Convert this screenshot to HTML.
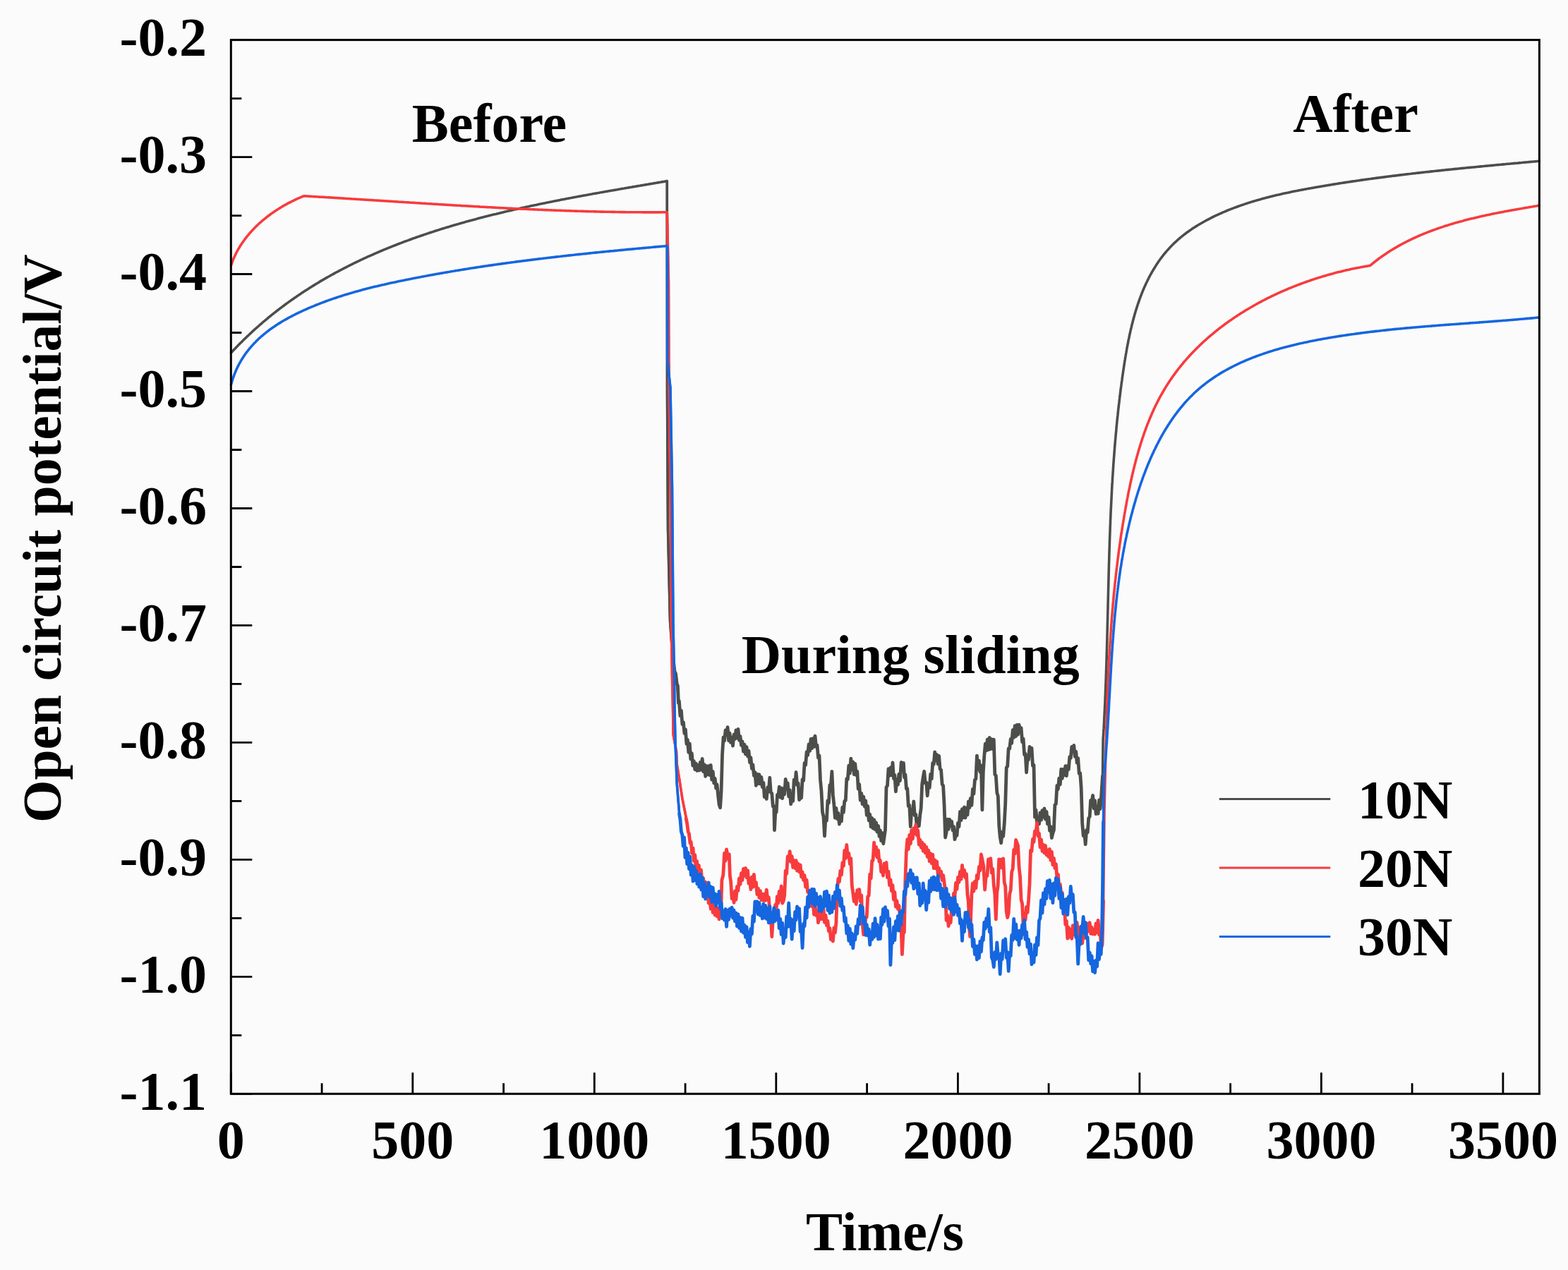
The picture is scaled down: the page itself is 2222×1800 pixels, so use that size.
<!DOCTYPE html>
<html><head><meta charset="utf-8"><title>Open circuit potential</title><style>
html,body{margin:0;padding:0;background:#fbfbfc;overflow:hidden}
svg{display:block}
text{font-family:"Liberation Serif","Times New Roman",serif;font-weight:bold;font-size:78px;fill:#000}
</style></head><body>
<svg width="2222" height="1800" viewBox="0 0 2222 1800">
<rect x="0" y="0" width="2222" height="1800" fill="#fbfbfc"/>
<path d="M327.5,500.0 L328.9,498.5 L330.3,497.0 L331.7,495.5 L333.2,494.0 L334.6,492.5 L336.0,491.0 L337.5,489.5 L338.9,488.1 L340.4,486.6 L341.8,485.2 L343.3,483.7 L344.7,482.3 L346.2,480.8 L347.7,479.4 L349.1,478.0 L350.6,476.6 L352.1,475.2 L353.6,473.8 L355.1,472.4 L356.5,471.0 L358.0,469.6 L359.5,468.2 L361.0,466.9 L362.6,465.5 L364.1,464.2 L365.6,462.8 L367.1,461.5 L368.6,460.2 L370.2,458.8 L371.7,457.5 L373.2,456.2 L374.8,454.9 L376.3,453.6 L377.9,452.3 L379.4,451.0 L381.0,449.7 L382.5,448.5 L384.1,447.2 L385.6,445.9 L387.2,444.7 L388.8,443.4 L390.4,442.2 L391.9,441.0 L393.5,439.7 L395.1,438.5 L396.7,437.3 L398.3,436.1 L399.9,434.9 L401.5,433.7 L403.1,432.5 L404.7,431.3 L406.3,430.1 L408.0,428.9 L409.6,427.8 L411.2,426.6 L412.8,425.5 L414.5,424.3 L416.1,423.2 L417.7,422.0 L419.4,420.9 L421.0,419.8 L422.7,418.6 L424.3,417.5 L426.0,416.4 L427.6,415.3 L429.3,414.2 L431.0,413.1 L432.6,412.0 L434.3,411.0 L436.0,409.9 L437.7,408.8 L439.3,407.8 L441.0,406.7 L442.7,405.6 L444.4,404.6 L446.1,403.6 L447.8,402.5 L449.5,401.5 L451.2,400.5 L452.9,399.4 L454.6,398.4 L456.3,397.4 L458.0,396.4 L459.8,395.4 L461.5,394.4 L463.2,393.4 L464.9,392.5 L466.7,391.5 L468.4,390.5 L470.1,389.5 L471.9,388.6 L473.6,387.6 L475.3,386.7 L477.1,385.7 L478.8,384.8 L480.6,383.9 L482.4,382.9 L484.1,382.0 L485.9,381.1 L487.6,380.2 L489.4,379.3 L491.2,378.4 L492.9,377.5 L494.7,376.6 L496.5,375.7 L498.3,374.8 L500.1,373.9 L501.8,373.0 L503.6,372.2 L505.4,371.3 L507.2,370.4 L509.0,369.6 L510.8,368.7 L512.6,367.9 L514.4,367.0 L516.2,366.2 L518.0,365.4 L519.8,364.5 L521.7,363.7 L523.5,362.9 L525.3,362.1 L527.1,361.3 L528.9,360.5 L530.8,359.7 L532.6,358.9 L534.4,358.1 L536.2,357.3 L538.1,356.5 L539.9,355.7 L541.7,355.0 L543.6,354.2 L545.4,353.4 L547.3,352.7 L549.1,351.9 L551.0,351.2 L552.8,350.4 L554.7,349.7 L556.5,348.9 L558.4,348.2 L560.3,347.5 L562.1,346.7 L564.0,346.0 L565.8,345.3 L567.7,344.6 L569.6,343.9 L571.5,343.1 L573.3,342.4 L575.2,341.7 L577.1,341.1 L579.0,340.4 L580.8,339.7 L582.7,339.0 L584.6,338.3 L586.5,337.6 L588.4,337.0 L590.3,336.3 L592.2,335.6 L594.1,335.0 L596.0,334.3 L597.9,333.7 L599.8,333.0 L601.7,332.4 L603.6,331.7 L605.5,331.1 L607.4,330.5 L609.3,329.8 L611.2,329.2 L613.1,328.6 L615.0,328.0 L616.9,327.3 L618.8,326.7 L620.8,326.1 L622.7,325.5 L624.6,324.9 L626.5,324.3 L628.4,323.7 L630.4,323.1 L632.3,322.5 L634.2,321.9 L636.1,321.4 L638.1,320.8 L640.0,320.2 L641.9,319.6 L643.9,319.1 L645.8,318.5 L647.7,317.9 L649.7,317.4 L651.6,316.8 L653.6,316.3 L655.5,315.7 L657.4,315.2 L659.4,314.6 L661.3,314.1 L663.3,313.5 L665.2,313.0 L667.2,312.5 L669.1,311.9 L671.1,311.4 L673.0,310.9 L675.0,310.4 L676.9,309.8 L678.9,309.3 L680.8,308.8 L682.8,308.3 L684.8,307.8 L686.7,307.3 L688.7,306.8 L690.6,306.3 L692.6,305.8 L694.6,305.3 L696.5,304.8 L698.5,304.3 L700.5,303.8 L702.4,303.4 L704.4,302.9 L706.4,302.4 L708.3,301.9 L710.3,301.4 L712.3,301.0 L714.2,300.5 L716.2,300.0 L718.2,299.6 L720.2,299.1 L722.1,298.7 L724.1,298.2 L726.1,297.7 L728.0,297.3 L730.0,296.8 L732.0,296.4 L734.0,295.9 L736.0,295.5 L737.9,295.1 L739.9,294.6 L741.9,294.2 L743.9,293.8 L745.9,293.3 L747.8,292.9 L749.8,292.5 L751.8,292.0 L753.8,291.6 L755.8,291.2 L757.7,290.8 L759.7,290.4 L761.7,289.9 L763.7,289.5 L765.7,289.1 L767.7,288.7 L769.6,288.3 L771.6,287.9 L773.6,287.5 L775.6,287.1 L777.6,286.7 L779.6,286.3 L781.5,285.9 L783.5,285.5 L785.5,285.1 L787.5,284.7 L789.5,284.3 L791.5,283.9 L793.5,283.5 L795.4,283.1 L797.4,282.7 L799.4,282.4 L801.4,282.0 L803.4,281.6 L805.4,281.2 L807.4,280.8 L809.3,280.5 L811.3,280.1 L813.3,279.7 L815.3,279.3 L817.3,279.0 L819.3,278.6 L821.3,278.2 L823.2,277.9 L825.2,277.5 L827.2,277.1 L829.2,276.8 L831.2,276.4 L833.2,276.0 L835.1,275.7 L837.1,275.3 L839.1,275.0 L841.1,274.6 L843.1,274.2 L845.1,273.9 L847.0,273.5 L849.0,273.2 L851.0,272.8 L853.0,272.5 L855.0,272.1 L856.9,271.8 L858.9,271.4 L860.9,271.1 L862.9,270.7 L864.8,270.4 L866.8,270.0 L868.8,269.7 L870.8,269.4 L872.7,269.0 L874.7,268.7 L876.7,268.3 L878.7,268.0 L880.6,267.6 L882.6,267.3 L884.6,267.0 L886.5,266.6 L888.5,266.3 L890.5,265.9 L892.4,265.6 L894.4,265.3 L896.4,264.9 L898.3,264.6 L900.3,264.3 L902.3,263.9 L904.2,263.6 L906.2,263.3 L908.2,262.9 L910.1,262.6 L912.1,262.3 L914.0,261.9 L916.0,261.6 L917.9,261.3 L919.9,260.9 L921.8,260.6 L923.8,260.3 L925.7,259.9 L927.7,259.6 L929.6,259.3 L931.6,258.9 L933.5,258.6 L935.5,258.3 L937.4,257.9 L939.4,257.6 L941.3,257.3 L943.3,256.9 L945.2,256.6 L945.3,257.0 L945.5,560.0 L946.5,750.0 L949.5,880.0 L953.0,930.0" fill="none" stroke="#4c4e4a" stroke-width="3.6" stroke-linejoin="round" stroke-linecap="round"/>
<path d="M945.3,257.0 L945.5,560.0 L946.5,750.0 L949.5,880.0 L953.0,930.0 L957.5,958.0 L959.2,964.5 L961.5,992.0" fill="none" stroke="#4c4e4a" stroke-width="3.3" stroke-linejoin="round" stroke-linecap="round"/>
<path d="M953.0,930.9 L954.5,938.1 L956.0,951.9 L957.5,954.6 L959.2,969.4 L960.4,972.0 L961.5,996.6 L962.4,993.6 L963.9,1014.5 L965.4,1007.1 L966.9,1026.5 L968.4,1023.6 L969.9,1039.4 L971.4,1033.8 L972.9,1054.4 L974.3,1048.4 L975.8,1066.4 L977.3,1053.9 L978.8,1075.8 L980.3,1067.7 L981.8,1085.1 L983.3,1078.7 L984.8,1090.7 L986.3,1082.1 L987.8,1092.4 L989.3,1084.7 L990.8,1091.9 L992.2,1080.5 L993.7,1091.1 L995.2,1075.5 L996.7,1093.5 L998.2,1083.5 L999.7,1100.3 L1001.2,1085.7 L1002.7,1097.9 L1004.2,1085.6 L1005.7,1098.6 L1007.2,1084.3 L1008.7,1105.2 L1010.2,1093.4 L1011.7,1109.8 L1013.2,1103.4 L1014.7,1117.2 L1016.1,1111.8 L1017.6,1127.2 L1019.1,1140.5 L1020.6,1144.8 L1022.1,1121.3 L1023.6,1068.5 L1025.1,1044.8 L1026.6,1049.9 L1028.1,1034.9 L1029.6,1041.4 L1031.1,1030.6 L1032.6,1049.6 L1034.0,1038.8 L1035.5,1052.4 L1037.0,1045.3 L1038.5,1057.1 L1040.0,1041.2 L1041.5,1047.4 L1043.0,1034.9 L1044.5,1046.1 L1046.0,1033.4 L1047.5,1049.0 L1049.0,1043.6 L1050.5,1056.4 L1052.0,1050.9 L1053.5,1065.2 L1055.0,1055.2 L1056.5,1068.9 L1058.0,1058.7 L1059.5,1071.8 L1061.0,1064.1 L1062.5,1080.5 L1063.9,1073.6 L1065.4,1089.3 L1066.9,1083.7 L1068.4,1099.3 L1069.9,1094.5 L1071.4,1113.3 L1072.9,1097.1 L1074.4,1110.7 L1075.9,1097.6 L1077.4,1111.2 L1078.9,1101.3 L1080.4,1115.7 L1081.9,1109.4 L1083.3,1129.6 L1084.8,1125.5 L1086.3,1132.4 L1087.8,1116.0 L1089.3,1122.0 L1090.8,1102.1 L1092.3,1123.2 L1093.8,1124.4 L1095.3,1142.9 L1096.8,1142.6 L1097.5,1176.6 L1098.8,1151.8 L1100.2,1151.2 L1101.5,1126.5 L1102.8,1128.3 L1104.3,1115.2 L1105.8,1130.0 L1107.2,1116.8 L1108.7,1131.6 L1110.2,1117.7 L1111.7,1125.8 L1113.2,1104.4 L1114.7,1112.4 L1116.2,1109.8 L1117.7,1128.9 L1119.2,1119.5 L1120.7,1139.7 L1122.2,1133.2 L1123.7,1135.3 L1125.2,1105.1 L1126.7,1111.2 L1128.1,1094.4 L1129.6,1112.5 L1131.1,1110.0 L1132.6,1133.7 L1134.1,1131.5 L1135.6,1130.8 L1137.1,1104.7 L1138.6,1106.5 L1140.1,1081.4 L1141.6,1084.4 L1143.1,1065.7 L1144.6,1070.4 L1146.1,1054.9 L1147.6,1064.3 L1149.1,1047.5 L1150.5,1060.7 L1152.0,1046.7 L1153.5,1058.3 L1155.0,1043.1 L1156.5,1058.2 L1158.0,1056.2 L1159.5,1074.0 L1161.0,1070.8 L1162.5,1105.4 L1164.0,1121.4 L1165.5,1151.1 L1167.0,1157.5 L1168.5,1184.8 L1170.0,1158.4 L1171.4,1163.2 L1172.9,1134.8 L1174.4,1138.0 L1175.9,1112.7 L1177.4,1112.7 L1178.9,1093.3 L1180.4,1126.9 L1181.9,1140.8 L1183.4,1159.2 L1184.9,1145.5 L1186.4,1160.5 L1187.9,1152.3 L1189.4,1168.0 L1190.9,1156.8 L1192.4,1164.0 L1193.8,1144.1 L1195.3,1151.5 L1196.8,1135.4 L1198.3,1134.5 L1199.8,1103.6 L1201.3,1104.7 L1202.8,1085.2 L1204.3,1096.0 L1205.8,1075.1 L1207.3,1090.9 L1208.8,1079.9 L1210.3,1097.5 L1211.8,1082.5 L1213.3,1098.5 L1214.8,1093.3 L1216.2,1118.1 L1217.7,1111.7 L1219.2,1134.0 L1220.7,1124.3 L1222.2,1139.7 L1223.7,1129.1 L1225.2,1143.0 L1226.7,1134.8 L1228.2,1155.3 L1229.7,1142.5 L1231.2,1162.9 L1232.7,1154.1 L1234.2,1171.9 L1235.7,1159.4 L1237.2,1174.0 L1238.7,1161.8 L1240.2,1175.8 L1241.6,1166.0 L1243.1,1179.2 L1244.6,1170.5 L1246.1,1185.4 L1247.4,1176.9 L1248.7,1191.6 L1250.0,1180.4 L1251.8,1195.8 L1253.6,1182.5 L1254.5,1176.7 L1256.0,1115.8 L1257.5,1113.5 L1259.0,1089.7 L1260.5,1099.5 L1262.0,1088.0 L1263.5,1098.8 L1265.0,1080.9 L1266.5,1103.6 L1267.9,1098.6 L1269.4,1121.9 L1270.9,1104.8 L1272.4,1112.2 L1273.9,1097.1 L1275.4,1106.6 L1277.2,1080.3 L1279.1,1087.5 L1280.4,1081.4 L1281.6,1101.8 L1282.9,1097.7 L1284.4,1117.8 L1285.8,1117.7 L1287.3,1142.5 L1288.8,1141.2 L1290.3,1171.7 L1291.8,1147.6 L1293.3,1153.5 L1294.8,1135.9 L1296.3,1155.9 L1297.8,1154.2 L1299.3,1173.5 L1300.8,1160.4 L1302.3,1170.7 L1303.8,1155.0 L1305.2,1145.7 L1306.7,1111.4 L1308.2,1101.5 L1309.7,1093.3 L1311.2,1110.1 L1312.7,1109.0 L1314.2,1127.8 L1315.7,1110.5 L1317.2,1116.5 L1318.7,1097.1 L1320.2,1103.9 L1321.7,1081.3 L1323.2,1083.4 L1324.7,1065.9 L1326.2,1077.8 L1327.7,1069.5 L1329.1,1082.8 L1330.6,1071.3 L1332.1,1090.0 L1333.6,1091.2 L1335.1,1111.5 L1336.6,1113.4 L1338.1,1141.4 L1339.6,1187.0 L1341.1,1179.7 L1342.6,1161.1 L1344.1,1175.3 L1345.6,1161.5 L1347.1,1170.5 L1348.6,1164.2 L1350.1,1176.9 L1351.5,1171.6 L1353.0,1189.7 L1354.5,1182.1 L1356.0,1184.3 L1357.5,1166.3 L1359.0,1171.6 L1360.5,1150.4 L1362.0,1162.5 L1363.5,1146.6 L1365.0,1158.8 L1366.5,1143.9 L1368.0,1159.0 L1369.5,1145.2 L1371.0,1155.0 L1372.5,1135.8 L1373.9,1144.7 L1375.4,1131.3 L1376.9,1141.4 L1378.4,1118.4 L1379.9,1125.1 L1381.4,1105.3 L1382.9,1103.9 L1384.4,1071.2 L1385.9,1090.4 L1387.4,1078.2 L1388.9,1094.1 L1390.4,1084.9 L1391.9,1147.9 L1393.3,1094.3 L1394.8,1071.3 L1396.3,1054.1 L1397.8,1063.8 L1399.3,1047.9 L1400.8,1062.7 L1402.3,1045.5 L1403.8,1061.5 L1405.3,1047.7 L1406.8,1061.5 L1408.3,1048.2 L1409.8,1097.8 L1411.3,1099.1 L1412.8,1123.5 L1414.3,1128.4 L1415.8,1170.8 L1417.2,1186.4 L1418.7,1194.7 L1420.2,1179.1 L1421.7,1185.3 L1423.2,1167.8 L1424.7,1140.1 L1426.2,1088.1 L1427.7,1086.0 L1429.2,1060.8 L1430.7,1061.1 L1432.2,1047.4 L1433.7,1053.4 L1435.2,1034.6 L1436.7,1045.4 L1438.2,1028.7 L1439.7,1043.5 L1441.2,1027.3 L1442.6,1041.1 L1444.1,1027.1 L1445.6,1034.7 L1447.1,1031.7 L1448.6,1051.5 L1450.1,1047.0 L1451.6,1069.7 L1453.1,1068.2 L1454.6,1094.8 L1456.1,1072.5 L1457.5,1076.9 L1459.0,1058.5 L1460.5,1064.9 L1462.0,1060.2 L1463.5,1085.4 L1465.0,1084.4 L1466.5,1158.1 L1468.0,1147.9 L1469.5,1166.0 L1471.0,1159.6 L1472.5,1167.8 L1474.0,1152.0 L1475.5,1162.2 L1477.0,1148.6 L1478.5,1158.1 L1480.0,1145.9 L1481.5,1161.1 L1483.0,1150.4 L1484.5,1167.9 L1486.0,1158.0 L1487.5,1177.2 L1489.0,1171.5 L1490.4,1187.6 L1491.9,1180.9 L1493.4,1176.8 L1494.9,1140.7 L1496.4,1139.5 L1497.9,1113.3 L1499.4,1118.6 L1500.8,1103.1 L1502.3,1111.8 L1503.8,1090.1 L1505.3,1103.3 L1506.8,1090.3 L1508.3,1098.7 L1509.8,1085.7 L1511.3,1099.7 L1512.8,1085.3 L1514.3,1090.8 L1515.8,1072.7 L1517.3,1074.5 L1518.8,1058.5 L1520.3,1064.0 L1521.8,1056.4 L1523.3,1072.4 L1524.7,1065.0 L1526.2,1081.2 L1527.7,1074.6 L1529.2,1096.3 L1530.7,1095.7 L1532.2,1117.0 L1533.7,1167.0 L1535.2,1184.6 L1536.7,1178.7 L1538.2,1196.7 L1539.7,1176.3 L1541.2,1179.7 L1542.7,1159.8 L1544.2,1157.5 L1545.6,1134.4 L1547.1,1136.9 L1548.6,1127.3 L1550.1,1145.9 L1551.6,1134.6 L1553.1,1153.6 L1554.6,1144.4 L1556.1,1153.2 L1557.6,1133.9 L1559.1,1146.6 L1560.6,1129.1 L1562.5,1100.0" fill="none" stroke="#4c4e4a" stroke-width="4.8" stroke-linejoin="round" stroke-linecap="round"/>
<path d="M1562.5,1100.0 L1563.1,1048.9 L1563.2,1046.9 L1563.3,1044.8 L1563.5,1042.8 L1563.6,1040.8 L1563.7,1038.8 L1563.8,1036.7 L1563.9,1034.7 L1564.1,1032.7 L1564.2,1030.7 L1564.3,1028.6 L1564.4,1026.6 L1564.5,1024.6 L1564.6,1022.6 L1564.7,1020.6 L1564.8,1018.5 L1564.9,1016.5 L1565.0,1014.5 L1565.1,1012.5 L1565.2,1010.5 L1565.3,1008.4 L1565.4,1006.4 L1565.5,1004.4 L1565.6,1002.4 L1565.7,1000.4 L1565.8,998.4 L1565.9,996.3 L1566.0,994.3 L1566.0,992.3 L1566.1,990.3 L1566.2,988.3 L1566.3,986.3 L1566.4,984.3 L1566.5,982.2 L1566.5,980.2 L1566.6,978.2 L1566.7,976.2 L1566.8,974.2 L1566.8,972.2 L1566.9,970.2 L1567.0,968.2 L1567.1,966.2 L1567.1,964.2 L1567.2,962.1 L1567.3,960.1 L1567.3,958.1 L1567.4,956.1 L1567.5,954.1 L1567.5,952.1 L1567.6,950.1 L1567.7,948.1 L1567.7,946.1 L1567.8,944.1 L1567.9,942.1 L1567.9,940.1 L1568.0,938.1 L1568.0,936.1 L1568.1,934.1 L1568.2,932.1 L1568.2,930.1 L1568.3,928.1 L1568.3,926.1 L1568.4,924.1 L1568.5,922.1 L1568.5,920.1 L1568.6,918.1 L1568.6,916.1 L1568.7,914.1 L1568.7,912.1 L1568.8,910.1 L1568.8,908.1 L1568.9,906.1 L1568.9,904.1 L1569.0,902.1 L1569.0,900.1 L1569.1,898.1 L1569.1,896.1 L1569.2,894.1 L1569.2,892.1 L1569.3,890.1 L1569.3,888.1 L1569.4,886.1 L1569.4,884.1 L1569.5,882.1 L1569.5,880.1 L1569.6,878.1 L1569.6,876.1 L1569.7,874.1 L1569.7,872.1 L1569.8,870.1 L1569.8,868.1 L1569.9,866.1 L1569.9,864.1 L1570.0,862.2 L1570.0,860.2 L1570.0,858.2 L1570.1,856.2 L1570.1,854.2 L1570.2,852.2 L1570.2,850.2 L1570.3,848.2 L1570.3,846.2 L1570.4,844.2 L1570.4,842.2 L1570.5,840.2 L1570.5,838.2 L1570.6,836.3 L1570.6,834.3 L1570.7,832.3 L1570.7,830.3 L1570.8,828.3 L1570.8,826.3 L1570.9,824.3 L1570.9,822.3 L1571.0,820.3 L1571.0,818.3 L1571.1,816.3 L1571.1,814.4 L1571.2,812.4 L1571.2,810.4 L1571.3,808.4 L1571.3,806.4 L1571.4,804.4 L1571.4,802.4 L1571.5,800.4 L1571.5,798.4 L1571.6,796.4 L1571.7,794.4 L1571.7,792.5 L1571.8,790.5 L1571.8,788.5 L1571.9,786.5 L1571.9,784.5 L1572.0,782.5 L1572.1,780.5 L1572.1,778.5 L1572.2,776.5 L1572.3,774.5 L1572.3,772.6 L1572.4,770.6 L1572.4,768.6 L1572.5,766.6 L1572.6,764.6 L1572.6,762.6 L1572.7,760.6 L1572.8,758.6 L1572.9,756.6 L1572.9,754.6 L1573.0,752.7 L1573.1,750.7 L1573.1,748.7 L1573.2,746.7 L1573.3,744.7 L1573.4,742.7 L1573.5,740.7 L1573.5,738.7 L1573.6,736.7 L1573.7,734.7 L1573.8,732.7 L1573.9,730.8 L1573.9,728.8 L1574.0,726.8 L1574.1,724.8 L1574.2,722.8 L1574.3,720.8 L1574.4,718.8 L1574.5,716.8 L1574.6,714.8 L1574.7,712.8 L1574.8,710.8 L1574.9,708.8 L1575.0,706.8 L1575.1,704.9 L1575.2,702.9 L1575.3,700.9 L1575.4,698.9 L1575.5,696.9 L1575.6,694.9 L1575.7,692.9 L1575.8,690.9 L1575.9,688.9 L1576.0,686.9 L1576.1,684.9 L1576.3,682.9 L1576.4,680.9 L1576.5,678.9 L1576.6,676.9 L1576.7,674.9 L1576.9,672.9 L1577.0,670.9 L1577.1,668.9 L1577.3,666.9 L1577.4,664.9 L1577.5,663.0 L1577.7,661.0 L1577.8,659.0 L1577.9,657.0 L1578.1,655.0 L1578.2,653.0 L1578.4,651.0 L1578.5,649.0 L1578.7,647.0 L1578.8,645.0 L1579.0,643.0 L1579.1,641.0 L1579.3,639.0 L1579.4,637.0 L1579.6,635.0 L1579.7,633.0 L1579.9,631.0 L1580.1,629.0 L1580.2,626.9 L1580.4,624.9 L1580.6,622.9 L1580.8,620.9 L1580.9,618.9 L1581.1,616.9 L1581.3,614.9 L1581.5,612.9 L1581.7,610.9 L1581.9,608.9 L1582.0,606.9 L1582.2,604.9 L1582.4,602.9 L1582.6,600.9 L1582.8,598.9 L1583.0,596.9 L1583.2,594.9 L1583.4,592.8 L1583.6,590.8 L1583.9,588.8 L1584.1,586.8 L1584.3,584.8 L1584.5,582.8 L1584.7,580.8 L1584.9,578.8 L1585.2,576.8 L1585.4,574.7 L1585.6,572.7 L1585.9,570.7 L1586.1,568.7 L1586.3,566.7 L1586.6,564.7 L1586.8,562.7 L1587.1,560.6 L1587.3,558.6 L1587.6,556.6 L1587.8,554.6 L1588.1,552.6 L1588.3,550.5 L1588.6,548.5 L1588.9,546.5 L1589.1,544.5 L1589.4,542.5 L1589.7,540.4 L1590.0,538.4 L1590.2,536.4 L1590.5,534.4 L1590.8,532.4 L1591.1,530.3 L1591.4,528.3 L1591.7,526.3 L1592.0,524.3 L1592.3,522.2 L1592.6,520.2 L1592.9,518.2 L1593.2,516.2 L1593.5,514.1 L1593.8,512.1 L1594.2,510.1 L1594.5,508.1 L1594.8,506.0 L1595.2,504.0 L1595.5,502.0 L1595.9,500.0 L1596.2,498.0 L1596.6,496.0 L1596.9,493.9 L1597.3,491.9 L1597.7,489.9 L1598.1,487.9 L1598.5,485.9 L1598.8,483.9 L1599.2,481.9 L1599.7,479.9 L1600.1,477.9 L1600.5,475.9 L1600.9,473.9 L1601.4,472.0 L1601.8,470.0 L1602.2,468.0 L1602.7,466.0 L1603.2,464.1 L1603.6,462.1 L1604.1,460.1 L1604.6,458.2 L1605.1,456.2 L1605.6,454.3 L1606.1,452.3 L1606.7,450.4 L1607.2,448.5 L1607.7,446.6 L1608.3,444.6 L1608.8,442.7 L1609.4,440.8 L1610.0,438.9 L1610.6,437.0 L1611.2,435.1 L1611.8,433.2 L1612.4,431.3 L1613.1,429.5 L1613.7,427.6 L1614.4,425.7 L1615.0,423.9 L1615.7,422.0 L1616.4,420.2 L1617.1,418.4 L1617.8,416.5 L1618.5,414.7 L1619.2,412.9 L1620.0,411.1 L1620.7,409.3 L1621.5,407.5 L1622.3,405.8 L1623.1,404.0 L1623.9,402.2 L1624.7,400.5 L1625.6,398.7 L1626.4,397.0 L1627.3,395.3 L1628.1,393.6 L1629.0,391.9 L1629.9,390.2 L1630.9,388.5 L1631.8,386.8 L1632.7,385.1 L1633.7,383.5 L1634.7,381.8 L1635.7,380.2 L1636.7,378.6 L1637.7,377.0 L1638.7,375.3 L1639.8,373.8 L1640.8,372.2 L1641.9,370.6 L1643.0,369.0 L1644.1,367.5 L1645.2,366.0 L1646.4,364.4 L1647.6,362.9 L1648.7,361.4 L1649.9,359.9 L1651.1,358.5 L1652.4,357.0 L1653.6,355.5 L1654.9,354.1 L1656.2,352.7 L1657.5,351.3 L1658.8,349.9 L1660.1,348.5 L1661.5,347.1 L1662.8,345.7 L1664.2,344.4 L1665.6,343.1 L1667.1,341.8 L1668.5,340.4 L1670.0,339.2 L1671.4,337.9 L1672.9,336.6 L1674.5,335.4 L1676.0,334.1 L1677.5,332.9 L1679.1,331.7 L1680.7,330.5 L1682.3,329.3 L1683.9,328.2 L1685.5,327.0 L1687.2,325.9 L1688.8,324.7 L1690.5,323.6 L1692.2,322.5 L1693.9,321.4 L1695.6,320.4 L1697.3,319.3 L1699.1,318.3 L1700.8,317.2 L1702.6,316.2 L1704.3,315.2 L1706.1,314.2 L1707.9,313.2 L1709.7,312.2 L1711.5,311.3 L1713.4,310.3 L1715.2,309.4 L1717.0,308.4 L1718.9,307.5 L1720.7,306.6 L1722.6,305.7 L1724.5,304.8 L1726.4,304.0 L1728.2,303.1 L1730.1,302.3 L1732.0,301.4 L1733.9,300.6 L1735.9,299.8 L1737.8,299.0 L1739.7,298.2 L1741.6,297.4 L1743.5,296.7 L1745.5,295.9 L1747.4,295.2 L1749.4,294.4 L1751.3,293.7 L1753.3,293.0 L1755.2,292.3 L1757.2,291.6 L1759.1,290.9 L1761.1,290.2 L1763.0,289.6 L1765.0,288.9 L1766.9,288.3 L1768.9,287.6 L1770.9,287.0 L1772.8,286.4 L1774.8,285.8 L1776.7,285.2 L1778.7,284.6 L1780.6,284.0 L1782.6,283.5 L1784.6,282.9 L1786.5,282.4 L1788.5,281.8 L1790.4,281.3 L1792.4,280.8 L1794.4,280.2 L1796.3,279.7 L1798.3,279.2 L1800.3,278.7 L1802.2,278.2 L1804.2,277.7 L1806.1,277.3 L1808.1,276.8 L1810.1,276.3 L1812.0,275.9 L1814.0,275.4 L1816.0,275.0 L1817.9,274.6 L1819.9,274.1 L1821.9,273.7 L1823.8,273.3 L1825.8,272.9 L1827.8,272.4 L1829.7,272.0 L1831.7,271.6 L1833.7,271.2 L1835.6,270.8 L1837.6,270.5 L1839.6,270.1 L1841.5,269.7 L1843.5,269.3 L1845.5,268.9 L1847.4,268.6 L1849.4,268.2 L1851.4,267.8 L1853.3,267.5 L1855.3,267.1 L1857.3,266.8 L1859.2,266.4 L1861.2,266.1 L1863.2,265.7 L1865.1,265.4 L1867.1,265.0 L1869.1,264.7 L1871.1,264.4 L1873.0,264.0 L1875.0,263.7 L1877.0,263.4 L1878.9,263.0 L1880.9,262.7 L1882.9,262.4 L1884.8,262.1 L1886.8,261.7 L1888.8,261.4 L1890.8,261.1 L1892.7,260.8 L1894.7,260.5 L1896.7,260.1 L1898.6,259.8 L1900.6,259.5 L1902.6,259.2 L1904.6,258.9 L1906.5,258.6 L1908.5,258.3 L1910.5,258.0 L1912.4,257.7 L1914.4,257.4 L1916.4,257.1 L1918.4,256.8 L1920.3,256.6 L1922.3,256.3 L1924.3,256.0 L1926.3,255.7 L1928.2,255.4 L1930.2,255.1 L1932.2,254.8 L1934.1,254.6 L1936.1,254.3 L1938.1,254.0 L1940.1,253.7 L1942.0,253.5 L1944.0,253.2 L1946.0,252.9 L1948.0,252.7 L1949.9,252.4 L1951.9,252.1 L1953.9,251.9 L1955.9,251.6 L1957.9,251.4 L1959.8,251.1 L1961.8,250.9 L1963.8,250.6 L1965.8,250.3 L1967.7,250.1 L1969.7,249.8 L1971.7,249.6 L1973.7,249.3 L1975.7,249.1 L1977.6,248.9 L1979.6,248.6 L1981.6,248.4 L1983.6,248.1 L1985.5,247.9 L1987.5,247.7 L1989.5,247.4 L1991.5,247.2 L1993.5,246.9 L1995.4,246.7 L1997.4,246.5 L1999.4,246.3 L2001.4,246.0 L2003.4,245.8 L2005.4,245.6 L2007.3,245.3 L2009.3,245.1 L2011.3,244.9 L2013.3,244.7 L2015.3,244.4 L2017.3,244.2 L2019.2,244.0 L2021.2,243.8 L2023.2,243.6 L2025.2,243.4 L2027.2,243.1 L2029.2,242.9 L2031.1,242.7 L2033.1,242.5 L2035.1,242.3 L2037.1,242.1 L2039.1,241.9 L2041.1,241.7 L2043.1,241.4 L2045.1,241.2 L2047.0,241.0 L2049.0,240.8 L2051.0,240.6 L2053.0,240.4 L2055.0,240.2 L2057.0,240.0 L2059.0,239.8 L2061.0,239.6 L2063.0,239.4 L2064.9,239.2 L2066.9,239.0 L2068.9,238.8 L2070.9,238.6 L2072.9,238.4 L2074.9,238.2 L2076.9,238.0 L2078.9,237.8 L2080.9,237.6 L2082.9,237.4 L2084.9,237.2 L2086.9,237.0 L2088.9,236.9 L2090.8,236.7 L2092.8,236.5 L2094.8,236.3 L2096.8,236.1 L2098.8,235.9 L2100.8,235.7 L2102.8,235.5 L2104.8,235.3 L2106.8,235.1 L2108.8,235.0 L2110.8,234.8 L2112.8,234.6 L2114.8,234.4 L2116.8,234.2 L2118.8,234.0 L2120.8,233.8 L2122.8,233.6 L2124.8,233.5 L2126.8,233.3 L2128.8,233.1 L2130.8,232.9 L2132.8,232.7 L2134.8,232.5 L2136.8,232.3 L2138.8,232.2 L2140.8,232.0 L2142.8,231.8 L2144.8,231.6 L2146.9,231.4 L2148.9,231.2 L2150.9,231.1 L2152.9,230.9 L2154.9,230.7 L2156.9,230.5 L2158.9,230.3 L2160.9,230.1 L2162.9,230.0 L2164.9,229.8 L2166.9,229.6 L2168.9,229.4 L2170.9,229.2 L2173.0,229.0 L2175.0,228.9 L2177.0,228.7 L2179.0,228.5 L2181.0,228.3" fill="none" stroke="#4c4e4a" stroke-width="3.6" stroke-linejoin="round" stroke-linecap="round"/>
<path d="M327.5,376.0 L328.2,374.1 L328.9,372.1 L329.6,370.2 L330.3,368.3 L331.1,366.4 L331.9,364.6 L332.8,362.7 L333.6,360.9 L334.5,359.0 L335.5,357.2 L336.4,355.4 L337.4,353.7 L338.4,351.9 L339.5,350.2 L340.5,348.4 L341.6,346.7 L342.8,345.0 L343.9,343.4 L345.1,341.7 L346.3,340.0 L347.5,338.4 L348.7,336.8 L350.0,335.2 L351.3,333.6 L352.6,332.1 L353.9,330.5 L355.2,329.0 L356.6,327.5 L358.0,326.0 L359.4,324.5 L360.8,323.0 L362.3,321.6 L363.7,320.1 L365.2,318.7 L366.7,317.3 L368.2,315.9 L369.8,314.6 L371.3,313.2 L372.9,311.9 L374.5,310.6 L376.1,309.3 L377.7,308.0 L379.3,306.7 L380.9,305.5 L382.6,304.3 L384.2,303.0 L385.9,301.9 L387.6,300.7 L389.3,299.5 L391.0,298.4 L392.7,297.3 L394.5,296.2 L396.2,295.1 L398.0,294.0 L399.7,292.9 L401.5,291.9 L403.3,290.9 L405.1,289.9 L406.9,288.9 L408.6,287.9 L410.5,287.0 L412.3,286.1 L414.1,285.2 L415.9,284.3 L417.7,283.4 L419.6,282.5 L421.4,281.7 L423.2,280.9 L425.1,280.1 L426.9,279.3 L428.8,278.5 L430.6,277.8 L432.6,277.9 L434.6,278.0 L436.6,278.1 L438.6,278.3 L440.6,278.4 L442.6,278.5 L444.6,278.6 L446.5,278.7 L448.5,278.8 L450.5,279.0 L452.5,279.1 L454.5,279.2 L456.5,279.3 L458.5,279.4 L460.5,279.5 L462.5,279.7 L464.5,279.8 L466.5,279.9 L468.5,280.0 L470.5,280.1 L472.5,280.3 L474.5,280.4 L476.5,280.5 L478.5,280.6 L480.5,280.8 L482.4,280.9 L484.4,281.0 L486.4,281.1 L488.4,281.2 L490.4,281.4 L492.4,281.5 L494.4,281.6 L496.4,281.7 L498.4,281.9 L500.4,282.0 L502.4,282.1 L504.4,282.2 L506.4,282.4 L508.4,282.5 L510.4,282.6 L512.4,282.7 L514.4,282.9 L516.4,283.0 L518.4,283.1 L520.4,283.2 L522.4,283.4 L524.4,283.5 L526.4,283.6 L528.4,283.7 L530.4,283.9 L532.4,284.0 L534.4,284.1 L536.4,284.3 L538.4,284.4 L540.4,284.5 L542.4,284.6 L544.4,284.8 L546.4,284.9 L548.4,285.0 L550.4,285.1 L552.4,285.3 L554.4,285.4 L556.3,285.5 L558.3,285.6 L560.3,285.8 L562.3,285.9 L564.3,286.0 L566.3,286.2 L568.3,286.3 L570.3,286.4 L572.3,286.5 L574.3,286.7 L576.3,286.8 L578.3,286.9 L580.3,287.0 L582.3,287.2 L584.3,287.3 L586.3,287.4 L588.3,287.5 L590.3,287.7 L592.3,287.8 L594.3,287.9 L596.3,288.0 L598.3,288.2 L600.3,288.3 L602.3,288.4 L604.4,288.5 L606.4,288.7 L608.4,288.8 L610.4,288.9 L612.4,289.0 L614.4,289.2 L616.4,289.3 L618.4,289.4 L620.4,289.5 L622.4,289.7 L624.4,289.8 L626.4,289.9 L628.4,290.0 L630.4,290.1 L632.4,290.3 L634.4,290.4 L636.4,290.5 L638.4,290.6 L640.4,290.7 L642.4,290.9 L644.4,291.0 L646.4,291.1 L648.4,291.2 L650.4,291.3 L652.4,291.4 L654.4,291.6 L656.4,291.7 L658.4,291.8 L660.4,291.9 L662.4,292.0 L664.4,292.1 L666.4,292.3 L668.4,292.4 L670.4,292.5 L672.4,292.6 L674.4,292.7 L676.4,292.8 L678.4,292.9 L680.4,293.1 L682.4,293.2 L684.4,293.3 L686.5,293.4 L688.5,293.5 L690.5,293.6 L692.5,293.7 L694.5,293.8 L696.5,293.9 L698.5,294.0 L700.5,294.1 L702.5,294.2 L704.5,294.4 L706.5,294.5 L708.5,294.6 L710.5,294.7 L712.5,294.8 L714.5,294.9 L716.5,295.0 L718.5,295.1 L720.5,295.2 L722.5,295.3 L724.5,295.4 L726.5,295.5 L728.5,295.6 L730.6,295.7 L732.6,295.8 L734.6,295.9 L736.6,296.0 L738.6,296.1 L740.6,296.1 L742.6,296.2 L744.6,296.3 L746.6,296.4 L748.6,296.5 L750.6,296.6 L752.6,296.7 L754.6,296.8 L756.6,296.9 L758.6,297.0 L760.6,297.0 L762.6,297.1 L764.6,297.2 L766.7,297.3 L768.7,297.4 L770.7,297.5 L772.7,297.6 L774.7,297.6 L776.7,297.7 L778.7,297.8 L780.7,297.9 L782.7,298.0 L784.7,298.0 L786.7,298.1 L788.7,298.2 L790.7,298.3 L792.7,298.3 L794.7,298.4 L796.7,298.5 L798.8,298.5 L800.8,298.6 L802.8,298.7 L804.8,298.8 L806.8,298.8 L808.8,298.9 L810.8,299.0 L812.8,299.0 L814.8,299.1 L816.8,299.1 L818.8,299.2 L820.8,299.3 L822.8,299.3 L824.8,299.4 L826.8,299.4 L828.9,299.5 L830.9,299.6 L832.9,299.6 L834.9,299.7 L836.9,299.7 L838.9,299.8 L840.9,299.8 L842.9,299.9 L844.9,299.9 L846.9,300.0 L848.9,300.0 L850.9,300.1 L852.9,300.1 L854.9,300.1 L857.0,300.2 L859.0,300.2 L861.0,300.3 L863.0,300.3 L865.0,300.3 L867.0,300.4 L869.0,300.4 L871.0,300.4 L873.0,300.5 L875.0,300.5 L877.0,300.5 L879.0,300.6 L881.0,300.6 L883.1,300.6 L885.1,300.6 L887.1,300.7 L889.1,300.7 L891.1,300.7 L893.1,300.7 L895.1,300.8 L897.1,300.8 L899.1,300.8 L901.1,300.8 L903.1,300.8 L905.1,300.8 L907.1,300.8 L909.2,300.8 L911.2,300.9 L913.2,300.9 L915.2,300.9 L917.2,300.9 L919.2,300.9 L921.2,300.9 L923.2,300.9 L925.2,300.9 L927.2,300.9 L929.2,300.9 L931.2,300.9 L933.3,300.9 L935.3,300.9 L937.3,300.8 L939.3,300.8 L941.3,300.8 L943.3,300.8 L945.3,300.8 L945.4,302.0 L947.5,400.0 L948.0,550.0 L950.0,690.0 L951.3,884.0 L952.5,960.0 L953.7,1014.0 L954.0,1041.0 L958.5,1065.0 L959.2,1083.0 L962.6,1103.6 L966.8,1131.3 L972.3,1158.9" fill="none" stroke="#f83b3d" stroke-width="3.6" stroke-linejoin="round" stroke-linecap="round"/>
<path d="M945.4,302.0 L947.5,400.0 L948.0,550.0 L950.0,690.0 L951.3,884.0 L952.5,960.0 L953.7,1014.0 L954.0,1041.0 L958.5,1065.0 L959.2,1083.0 L962.6,1103.6 L966.8,1131.3 L972.3,1158.9 L976.5,1186.5 L982.0,1207.3 L990.3,1234.9" fill="none" stroke="#f83b3d" stroke-width="3.3" stroke-linejoin="round" stroke-linecap="round"/>
<path d="M972.3,1160.2 L973.7,1167.3 L975.1,1178.6 L976.5,1181.8 L977.9,1194.9 L979.2,1193.2 L980.6,1209.2 L982.0,1201.8 L983.4,1220.3 L984.8,1211.6 L986.1,1229.9 L987.5,1220.4 L988.9,1237.1 L990.3,1226.3 L991.9,1245.6 L993.5,1233.0 L995.0,1252.4 L996.6,1244.5 L998.2,1260.1 L999.7,1250.0 L1001.2,1267.1 L1002.7,1262.3 L1004.2,1280.1 L1005.7,1270.3 L1007.2,1288.2 L1008.7,1274.2 L1010.2,1293.3 L1011.7,1280.3 L1013.2,1296.9 L1014.7,1285.1 L1016.2,1298.9 L1017.7,1287.0 L1019.1,1302.9 L1020.6,1291.7 L1021.8,1285.9 L1022.9,1247.6 L1024.8,1240.4 L1026.6,1209.2 L1028.1,1220.1 L1029.6,1203.8 L1031.4,1216.7 L1033.3,1210.8 L1034.4,1241.2 L1035.6,1249.0 L1037.1,1273.6 L1038.6,1270.6 L1040.1,1279.3 L1041.5,1262.9 L1043.0,1275.1 L1044.5,1256.4 L1046.0,1262.3 L1047.5,1245.0 L1049.0,1253.3 L1050.5,1237.7 L1052.0,1247.5 L1053.5,1231.4 L1055.0,1241.0 L1056.5,1230.3 L1058.0,1243.8 L1059.5,1233.7 L1061.0,1252.2 L1062.4,1244.8 L1063.9,1260.5 L1065.4,1243.1 L1066.9,1257.4 L1068.4,1239.3 L1069.9,1255.9 L1071.4,1250.5 L1072.9,1267.6 L1074.4,1259.1 L1075.9,1272.4 L1077.4,1262.6 L1078.9,1275.7 L1080.4,1267.1 L1081.9,1276.3 L1083.4,1267.0 L1084.8,1276.4 L1086.3,1261.1 L1087.8,1275.2 L1089.3,1271.6 L1090.8,1291.8 L1092.3,1299.3 L1093.8,1327.7 L1096.0,1291.9 L1097.3,1302.8 L1098.7,1282.4 L1100.0,1290.9 L1101.3,1270.7 L1102.8,1280.1 L1104.2,1263.5 L1105.7,1275.9 L1107.2,1256.0 L1108.7,1280.2 L1110.2,1277.0 L1111.7,1269.2 L1113.2,1234.2 L1114.7,1238.6 L1116.2,1213.8 L1117.7,1219.8 L1119.2,1206.6 L1120.7,1221.4 L1122.2,1213.7 L1123.7,1229.4 L1125.2,1219.4 L1126.7,1230.5 L1128.2,1219.7 L1129.6,1234.1 L1131.1,1224.2 L1132.6,1235.8 L1134.1,1225.8 L1135.6,1242.8 L1137.1,1235.8 L1138.6,1247.5 L1140.1,1240.7 L1141.6,1257.0 L1143.1,1247.1 L1144.6,1264.2 L1146.1,1262.5 L1147.6,1276.9 L1149.1,1270.2 L1150.5,1284.6 L1152.0,1275.8 L1153.5,1296.1 L1155.0,1282.4 L1156.5,1297.3 L1158.0,1290.9 L1159.5,1307.7 L1161.0,1295.1 L1162.5,1303.0 L1164.0,1291.5 L1165.5,1302.8 L1167.0,1288.8 L1168.5,1307.3 L1170.0,1297.1 L1171.4,1311.5 L1172.9,1305.1 L1174.4,1319.8 L1175.9,1315.6 L1177.4,1331.6 L1178.9,1324.8 L1180.4,1334.0 L1181.9,1314.8 L1183.4,1322.0 L1184.9,1308.1 L1186.4,1261.6 L1187.9,1245.3 L1189.4,1249.7 L1190.9,1234.1 L1192.4,1240.0 L1193.9,1222.7 L1195.4,1227.4 L1196.8,1205.4 L1198.3,1216.6 L1199.8,1197.5 L1201.3,1214.5 L1202.8,1209.2 L1204.3,1224.6 L1205.8,1216.5 L1207.3,1255.2 L1208.8,1266.0 L1210.3,1277.7 L1211.8,1267.5 L1213.3,1281.5 L1214.8,1261.6 L1216.2,1270.5 L1217.7,1260.5 L1219.2,1277.6 L1220.7,1268.8 L1222.2,1309.5 L1223.7,1324.7 L1225.2,1322.0 L1226.7,1300.0 L1228.2,1300.1 L1229.7,1270.7 L1231.2,1269.5 L1232.7,1239.2 L1234.2,1244.9 L1235.7,1220.2 L1237.1,1219.4 L1238.6,1194.1 L1240.1,1212.0 L1241.6,1200.5 L1243.1,1215.2 L1244.6,1205.2 L1245.9,1221.0 L1247.3,1219.4 L1248.7,1235.6 L1250.0,1231.7 L1251.5,1241.1 L1253.0,1224.0 L1254.5,1235.4 L1256.0,1222.5 L1257.5,1243.7 L1259.0,1235.0 L1260.5,1254.6 L1262.0,1246.8 L1263.5,1262.7 L1265.0,1254.7 L1266.4,1275.2 L1267.9,1264.5 L1269.4,1285.0 L1270.9,1276.5 L1272.4,1288.4 L1273.9,1283.6 L1275.4,1298.2 L1276.9,1309.3 L1278.4,1352.6 L1279.9,1323.4 L1281.4,1321.3 L1282.8,1250.7 L1284.3,1207.7 L1285.8,1189.7 L1287.3,1203.5 L1288.8,1183.5 L1290.3,1195.8 L1291.8,1176.7 L1293.3,1189.1 L1294.8,1173.9 L1296.3,1181.7 L1297.8,1169.0 L1299.3,1183.8 L1300.8,1177.2 L1302.3,1197.0 L1303.8,1190.2 L1305.3,1201.3 L1306.7,1193.9 L1308.2,1206.2 L1309.7,1196.9 L1311.2,1208.9 L1312.7,1200.3 L1314.2,1214.4 L1315.7,1205.1 L1317.2,1220.7 L1318.7,1209.7 L1320.2,1223.7 L1321.7,1211.1 L1323.2,1230.5 L1324.7,1218.8 L1326.2,1230.9 L1327.6,1221.0 L1329.1,1238.8 L1330.6,1230.3 L1332.1,1241.8 L1333.6,1235.0 L1335.1,1247.6 L1336.6,1240.4 L1338.1,1251.0 L1339.6,1262.7 L1341.1,1304.3 L1342.6,1297.1 L1344.1,1312.5 L1345.6,1303.4 L1347.1,1307.8 L1348.6,1287.6 L1350.0,1287.2 L1351.5,1266.2 L1353.0,1270.5 L1354.5,1251.4 L1356.0,1260.3 L1357.5,1243.4 L1359.0,1250.3 L1360.5,1235.3 L1362.0,1246.1 L1363.5,1226.4 L1365.0,1241.4 L1366.5,1233.0 L1368.0,1244.0 L1369.5,1238.6 L1371.0,1267.9 L1372.4,1278.4 L1373.6,1316.1 L1374.7,1327.4 L1376.9,1268.2 L1378.4,1252.0 L1379.9,1263.0 L1381.4,1249.3 L1382.9,1258.7 L1384.4,1240.3 L1385.9,1245.5 L1387.4,1228.4 L1388.9,1233.8 L1390.4,1210.9 L1391.9,1218.1 L1393.8,1227.9 L1395.6,1261.1 L1397.3,1240.6 L1398.9,1241.6 L1400.6,1218.0 L1402.3,1223.8 L1403.8,1216.6 L1405.3,1237.2 L1406.8,1231.3 L1408.3,1254.9 L1409.8,1266.9 L1411.3,1302.8 L1412.8,1265.2 L1414.2,1255.3 L1415.7,1217.8 L1417.2,1229.6 L1418.7,1218.1 L1420.2,1230.2 L1421.7,1216.8 L1423.2,1250.5 L1424.7,1256.1 L1426.2,1291.9 L1427.7,1300.5 L1429.2,1294.2 L1430.7,1267.1 L1432.2,1262.1 L1433.7,1235.7 L1435.2,1231.5 L1436.7,1204.4 L1438.2,1210.0 L1439.6,1190.5 L1441.1,1194.6 L1442.6,1198.5 L1444.1,1229.6 L1445.6,1242.8 L1447.1,1275.1 L1448.6,1281.0 L1450.1,1311.8 L1451.6,1298.7 L1453.1,1303.8 L1454.6,1285.4 L1456.1,1293.3 L1457.6,1275.7 L1459.0,1253.4 L1460.5,1205.2 L1462.0,1206.4 L1463.5,1189.2 L1465.0,1193.5 L1466.5,1177.8 L1468.0,1181.4 L1469.5,1166.1 L1471.0,1184.8 L1472.5,1181.3 L1474.0,1200.8 L1475.5,1189.8 L1477.0,1206.3 L1478.4,1197.1 L1479.9,1208.9 L1481.4,1198.5 L1482.9,1211.8 L1484.4,1204.8 L1485.9,1214.3 L1487.4,1203.4 L1488.9,1219.2 L1490.4,1207.1 L1491.9,1225.7 L1493.4,1216.3 L1494.9,1230.6 L1496.4,1224.6 L1497.9,1244.5 L1499.4,1239.2 L1500.9,1257.9 L1502.3,1253.2 L1503.8,1267.5 L1505.3,1265.3 L1506.8,1286.3 L1508.3,1283.4 L1509.8,1310.4 L1511.3,1305.4 L1512.8,1330.2 L1514.3,1314.4 L1515.8,1328.2 L1517.3,1317.2 L1518.8,1330.4 L1520.3,1311.7 L1521.8,1324.8 L1523.2,1311.6 L1524.7,1319.8 L1526.2,1307.4 L1527.7,1325.5 L1529.2,1314.6 L1530.7,1328.4 L1532.2,1319.3 L1533.7,1337.1 L1535.2,1322.2 L1536.7,1329.4 L1538.2,1314.7 L1539.7,1323.1 L1541.2,1308.8 L1542.7,1319.6 L1544.2,1307.7 L1545.7,1323.3 L1547.1,1314.2 L1548.6,1323.9 L1550.1,1317.5 L1551.6,1324.1 L1553.1,1308.8 L1554.6,1321.8 L1556.1,1304.3 L1557.6,1324.8 L1559.1,1320.5 L1560.6,1343.5 L1562.1,1338.5 L1563.6,1276.9" fill="none" stroke="#f83b3d" stroke-width="4.8" stroke-linejoin="round" stroke-linecap="round"/>
<path d="M1563.6,1276.9 L1565.0,1150.0 L1565.0,1148.0 L1565.1,1145.9 L1565.1,1143.9 L1565.2,1141.9 L1565.2,1139.9 L1565.3,1137.8 L1565.3,1135.8 L1565.4,1133.8 L1565.4,1131.8 L1565.5,1129.7 L1565.5,1127.7 L1565.6,1125.7 L1565.6,1123.7 L1565.7,1121.7 L1565.7,1119.6 L1565.7,1117.6 L1565.8,1115.6 L1565.8,1113.6 L1565.9,1111.6 L1565.9,1109.5 L1566.0,1107.5 L1566.0,1105.5 L1566.1,1103.5 L1566.1,1101.5 L1566.2,1099.5 L1566.2,1097.5 L1566.2,1095.4 L1566.3,1093.4 L1566.3,1091.4 L1566.4,1089.4 L1566.4,1087.4 L1566.5,1085.4 L1566.5,1083.4 L1566.6,1081.4 L1566.6,1079.4 L1566.7,1077.3 L1566.7,1075.3 L1566.8,1073.3 L1566.8,1071.3 L1566.8,1069.3 L1566.9,1067.3 L1566.9,1065.3 L1567.0,1063.3 L1567.0,1061.3 L1567.1,1059.3 L1567.1,1057.3 L1567.2,1055.3 L1567.2,1053.3 L1567.3,1051.3 L1567.3,1049.3 L1567.4,1047.3 L1567.5,1045.3 L1567.5,1043.3 L1567.6,1041.3 L1567.6,1039.3 L1567.7,1037.3 L1567.7,1035.3 L1567.8,1033.3 L1567.8,1031.3 L1567.9,1029.3 L1568.0,1027.3 L1568.0,1025.3 L1568.1,1023.3 L1568.1,1021.3 L1568.2,1019.3 L1568.3,1017.3 L1568.3,1015.3 L1568.4,1013.3 L1568.4,1011.3 L1568.5,1009.3 L1568.6,1007.3 L1568.6,1005.3 L1568.7,1003.3 L1568.8,1001.3 L1568.8,999.3 L1568.9,997.3 L1569.0,995.4 L1569.1,993.4 L1569.1,991.4 L1569.2,989.4 L1569.3,987.4 L1569.4,985.4 L1569.4,983.4 L1569.5,981.4 L1569.6,979.4 L1569.7,977.4 L1569.7,975.4 L1569.8,973.4 L1569.9,971.5 L1570.0,969.5 L1570.1,967.5 L1570.2,965.5 L1570.3,963.5 L1570.3,961.5 L1570.4,959.5 L1570.5,957.5 L1570.6,955.5 L1570.7,953.6 L1570.8,951.6 L1570.9,949.6 L1571.0,947.6 L1571.1,945.6 L1571.2,943.6 L1571.3,941.6 L1571.4,939.6 L1571.5,937.7 L1571.6,935.7 L1571.7,933.7 L1571.8,931.7 L1571.9,929.7 L1572.1,927.7 L1572.2,925.7 L1572.3,923.7 L1572.4,921.8 L1572.5,919.8 L1572.6,917.8 L1572.8,915.8 L1572.9,913.8 L1573.0,911.8 L1573.1,909.8 L1573.3,907.9 L1573.4,905.9 L1573.5,903.9 L1573.7,901.9 L1573.8,899.9 L1573.9,897.9 L1574.1,895.9 L1574.2,894.0 L1574.3,892.0 L1574.5,890.0 L1574.6,888.0 L1574.8,886.0 L1574.9,884.0 L1575.1,882.0 L1575.2,880.0 L1575.4,878.1 L1575.5,876.1 L1575.7,874.1 L1575.9,872.1 L1576.0,870.1 L1576.2,868.1 L1576.3,866.1 L1576.5,864.2 L1576.7,862.2 L1576.9,860.2 L1577.0,858.2 L1577.2,856.2 L1577.4,854.2 L1577.6,852.2 L1577.8,850.2 L1577.9,848.3 L1578.1,846.3 L1578.3,844.3 L1578.5,842.3 L1578.7,840.3 L1578.9,838.3 L1579.1,836.3 L1579.3,834.3 L1579.5,832.4 L1579.7,830.4 L1579.9,828.4 L1580.1,826.4 L1580.3,824.4 L1580.5,822.4 L1580.8,820.4 L1581.0,818.4 L1581.2,816.4 L1581.4,814.5 L1581.6,812.5 L1581.9,810.5 L1582.1,808.5 L1582.3,806.5 L1582.6,804.5 L1582.8,802.5 L1583.1,800.5 L1583.3,798.5 L1583.5,796.5 L1583.8,794.5 L1584.0,792.5 L1584.3,790.6 L1584.6,788.6 L1584.8,786.6 L1585.1,784.6 L1585.3,782.6 L1585.6,780.6 L1585.9,778.6 L1586.2,776.6 L1586.4,774.6 L1586.7,772.6 L1587.0,770.6 L1587.3,768.6 L1587.6,766.6 L1587.9,764.6 L1588.1,762.6 L1588.4,760.6 L1588.7,758.6 L1589.0,756.6 L1589.3,754.6 L1589.7,752.6 L1590.0,750.6 L1590.3,748.6 L1590.6,746.6 L1590.9,744.6 L1591.2,742.6 L1591.6,740.6 L1591.9,738.6 L1592.2,736.6 L1592.6,734.6 L1592.9,732.6 L1593.2,730.6 L1593.6,728.6 L1593.9,726.6 L1594.3,724.6 L1594.6,722.6 L1595.0,720.6 L1595.3,718.6 L1595.7,716.6 L1596.1,714.6 L1596.4,712.6 L1596.8,710.6 L1597.2,708.5 L1597.6,706.5 L1598.0,704.5 L1598.3,702.5 L1598.7,700.5 L1599.1,698.5 L1599.5,696.5 L1599.9,694.5 L1600.4,692.5 L1600.8,690.5 L1601.2,688.5 L1601.6,686.5 L1602.0,684.5 L1602.5,682.5 L1602.9,680.5 L1603.4,678.5 L1603.8,676.5 L1604.3,674.5 L1604.7,672.5 L1605.2,670.5 L1605.7,668.5 L1606.1,666.5 L1606.6,664.6 L1607.1,662.6 L1607.6,660.6 L1608.1,658.6 L1608.6,656.6 L1609.1,654.7 L1609.6,652.7 L1610.1,650.7 L1610.7,648.8 L1611.2,646.8 L1611.8,644.8 L1612.3,642.9 L1612.9,640.9 L1613.4,639.0 L1614.0,637.0 L1614.6,635.1 L1615.2,633.2 L1615.8,631.2 L1616.4,629.3 L1617.0,627.4 L1617.6,625.4 L1618.2,623.5 L1618.8,621.6 L1619.5,619.7 L1620.1,617.8 L1620.8,615.9 L1621.4,614.0 L1622.1,612.1 L1622.8,610.2 L1623.5,608.3 L1624.2,606.4 L1624.9,604.5 L1625.6,602.7 L1626.3,600.8 L1627.1,598.9 L1627.8,597.1 L1628.6,595.2 L1629.3,593.4 L1630.1,591.5 L1630.9,589.7 L1631.7,587.9 L1632.4,586.1 L1633.3,584.2 L1634.1,582.4 L1634.9,580.6 L1635.7,578.8 L1636.6,577.0 L1637.4,575.3 L1638.3,573.5 L1639.2,571.7 L1640.1,569.9 L1641.0,568.2 L1641.9,566.4 L1642.8,564.7 L1643.7,562.9 L1644.7,561.2 L1645.6,559.5 L1646.6,557.8 L1647.6,556.1 L1648.6,554.4 L1649.6,552.7 L1650.6,551.0 L1651.6,549.3 L1652.6,547.6 L1653.7,546.0 L1654.7,544.3 L1655.8,542.7 L1656.9,541.0 L1657.9,539.4 L1659.0,537.8 L1660.2,536.2 L1661.3,534.5 L1662.4,532.9 L1663.6,531.4 L1664.7,529.8 L1665.9,528.2 L1667.1,526.6 L1668.2,525.1 L1669.4,523.5 L1670.6,522.0 L1671.9,520.4 L1673.1,518.9 L1674.3,517.4 L1675.6,515.9 L1676.8,514.3 L1678.1,512.8 L1679.4,511.4 L1680.7,509.9 L1682.0,508.4 L1683.3,506.9 L1684.6,505.5 L1685.9,504.0 L1687.3,502.6 L1688.6,501.1 L1690.0,499.7 L1691.3,498.3 L1692.7,496.9 L1694.1,495.5 L1695.5,494.1 L1696.9,492.7 L1698.3,491.3 L1699.7,489.9 L1701.1,488.6 L1702.5,487.2 L1704.0,485.9 L1705.4,484.5 L1706.9,483.2 L1708.4,481.9 L1709.9,480.5 L1711.3,479.2 L1712.8,477.9 L1714.3,476.6 L1715.8,475.3 L1717.4,474.1 L1718.9,472.8 L1720.4,471.5 L1722.0,470.3 L1723.5,469.0 L1725.1,467.8 L1726.6,466.5 L1728.2,465.3 L1729.8,464.1 L1731.4,462.9 L1733.0,461.7 L1734.6,460.5 L1736.2,459.3 L1737.8,458.1 L1739.4,457.0 L1741.0,455.8 L1742.7,454.6 L1744.3,453.5 L1746.0,452.4 L1747.6,451.2 L1749.3,450.1 L1750.9,449.0 L1752.6,447.9 L1754.3,446.8 L1756.0,445.7 L1757.7,444.6 L1759.4,443.5 L1761.1,442.5 L1762.8,441.4 L1764.5,440.3 L1766.2,439.3 L1768.0,438.3 L1769.7,437.2 L1771.4,436.2 L1773.2,435.2 L1774.9,434.2 L1776.7,433.2 L1778.4,432.2 L1780.2,431.2 L1782.0,430.2 L1783.8,429.3 L1785.5,428.3 L1787.3,427.4 L1789.1,426.4 L1790.9,425.5 L1792.7,424.6 L1794.5,423.6 L1796.3,422.7 L1798.1,421.8 L1800.0,420.9 L1801.8,420.0 L1803.6,419.2 L1805.4,418.3 L1807.3,417.4 L1809.1,416.6 L1810.9,415.7 L1812.8,414.9 L1814.6,414.0 L1816.5,413.2 L1818.4,412.4 L1820.2,411.6 L1822.1,410.8 L1824.0,410.0 L1825.8,409.2 L1827.7,408.4 L1829.6,407.7 L1831.5,406.9 L1833.3,406.1 L1835.2,405.4 L1837.1,404.7 L1839.0,403.9 L1840.9,403.2 L1842.8,402.5 L1844.7,401.8 L1846.6,401.1 L1848.5,400.4 L1850.4,399.7 L1852.3,399.0 L1854.3,398.4 L1856.2,397.7 L1858.1,397.0 L1860.0,396.4 L1861.9,395.8 L1863.9,395.1 L1865.8,394.5 L1867.7,393.9 L1869.7,393.3 L1871.6,392.7 L1873.5,392.1 L1875.4,391.5 L1877.4,390.9 L1879.3,390.4 L1881.3,389.8 L1883.2,389.3 L1885.1,388.7 L1887.1,388.2 L1889.0,387.7 L1891.0,387.1 L1892.9,386.6 L1894.9,386.1 L1896.8,385.6 L1898.8,385.2 L1900.7,384.7 L1902.7,384.2 L1904.6,383.7 L1906.5,383.3 L1908.5,382.8 L1910.4,382.4 L1912.4,382.0 L1914.3,381.5 L1916.3,381.1 L1918.2,380.7 L1920.2,380.3 L1922.1,379.9 L1924.1,379.5 L1926.0,379.2 L1928.0,378.8 L1929.9,378.4 L1931.9,378.1 L1933.8,377.7 L1935.8,377.4 L1937.7,377.1 L1939.7,376.7 L1941.6,376.4 L1943.2,375.1 L1944.7,373.8 L1946.3,372.5 L1947.9,371.3 L1949.5,370.0 L1951.1,368.8 L1952.7,367.5 L1954.3,366.3 L1956.0,365.1 L1957.6,364.0 L1959.2,362.8 L1960.9,361.7 L1962.6,360.5 L1964.2,359.4 L1965.9,358.3 L1967.6,357.2 L1969.3,356.1 L1971.0,355.0 L1972.7,354.0 L1974.4,352.9 L1976.2,351.9 L1977.9,350.9 L1979.6,349.9 L1981.4,348.9 L1983.1,347.9 L1984.9,346.9 L1986.6,346.0 L1988.4,345.0 L1990.2,344.1 L1992.0,343.2 L1993.8,342.2 L1995.6,341.3 L1997.4,340.5 L1999.2,339.6 L2001.0,338.7 L2002.8,337.8 L2004.7,337.0 L2006.5,336.2 L2008.3,335.3 L2010.2,334.5 L2012.0,333.7 L2013.9,332.9 L2015.7,332.2 L2017.6,331.4 L2019.5,330.6 L2021.4,329.9 L2023.2,329.1 L2025.1,328.4 L2027.0,327.7 L2028.9,327.0 L2030.8,326.3 L2032.7,325.6 L2034.6,324.9 L2036.5,324.2 L2038.4,323.5 L2040.4,322.9 L2042.3,322.2 L2044.2,321.6 L2046.2,320.9 L2048.1,320.3 L2050.0,319.7 L2052.0,319.1 L2053.9,318.5 L2055.9,317.9 L2057.8,317.3 L2059.8,316.7 L2061.7,316.1 L2063.7,315.6 L2065.7,315.0 L2067.6,314.5 L2069.6,313.9 L2071.6,313.4 L2073.5,312.9 L2075.5,312.3 L2077.5,311.8 L2079.5,311.3 L2081.4,310.8 L2083.4,310.3 L2085.4,309.8 L2087.4,309.4 L2089.4,308.9 L2091.4,308.4 L2093.4,307.9 L2095.4,307.5 L2097.4,307.0 L2099.4,306.6 L2101.4,306.1 L2103.4,305.7 L2105.4,305.2 L2107.4,304.8 L2109.4,304.4 L2111.4,304.0 L2113.4,303.6 L2115.4,303.1 L2117.4,302.7 L2119.4,302.3 L2121.4,301.9 L2123.4,301.5 L2125.4,301.1 L2127.4,300.8 L2129.4,300.4 L2131.4,300.0 L2133.4,299.6 L2135.4,299.2 L2137.4,298.9 L2139.4,298.5 L2141.4,298.1 L2143.4,297.8 L2145.4,297.4 L2147.4,297.1 L2149.3,296.7 L2151.3,296.4 L2153.3,296.0 L2155.3,295.7 L2157.3,295.3 L2159.3,295.0 L2161.3,294.6 L2163.3,294.3 L2165.2,294.0 L2167.2,293.6 L2169.2,293.3 L2171.2,293.0 L2173.1,292.6 L2175.1,292.3 L2177.1,292.0 L2179.0,291.6 L2181.0,291.3" fill="none" stroke="#f83b3d" stroke-width="3.6" stroke-linejoin="round" stroke-linecap="round"/>
<path d="M327.5,545.0 L328.1,542.9 L328.7,540.8 L329.3,538.7 L330.0,536.7 L330.7,534.7 L331.4,532.7 L332.1,530.7 L332.9,528.8 L333.7,526.9 L334.5,525.0 L335.3,523.1 L336.2,521.2 L337.1,519.4 L338.0,517.6 L338.9,515.8 L339.9,514.1 L340.9,512.3 L341.9,510.6 L342.9,508.9 L344.0,507.2 L345.1,505.6 L346.2,503.9 L347.3,502.3 L348.4,500.7 L349.6,499.2 L350.8,497.6 L352.0,496.1 L353.2,494.5 L354.4,493.1 L355.7,491.6 L357.0,490.1 L358.3,488.7 L359.6,487.3 L360.9,485.9 L362.3,484.5 L363.6,483.1 L365.0,481.8 L366.4,480.4 L367.8,479.1 L369.3,477.8 L370.7,476.5 L372.2,475.3 L373.7,474.0 L375.2,472.8 L376.7,471.6 L378.2,470.4 L379.8,469.2 L381.3,468.0 L382.9,466.8 L384.5,465.7 L386.1,464.6 L387.7,463.5 L389.3,462.4 L390.9,461.3 L392.6,460.2 L394.2,459.1 L395.9,458.1 L397.5,457.1 L399.2,456.0 L400.9,455.0 L402.6,454.0 L404.3,453.1 L406.1,452.1 L407.8,451.1 L409.5,450.2 L411.3,449.2 L413.0,448.3 L414.8,447.4 L416.6,446.5 L418.3,445.6 L420.1,444.7 L421.9,443.8 L423.7,443.0 L425.5,442.1 L427.3,441.3 L429.1,440.4 L430.9,439.6 L432.7,438.8 L434.6,438.0 L436.4,437.2 L438.2,436.4 L440.1,435.6 L441.9,434.8 L443.8,434.1 L445.6,433.3 L447.5,432.5 L449.3,431.8 L451.2,431.1 L453.0,430.3 L454.9,429.6 L456.8,428.9 L458.7,428.2 L460.5,427.5 L462.4,426.8 L464.3,426.1 L466.2,425.4 L468.1,424.8 L470.0,424.1 L471.9,423.4 L473.8,422.8 L475.7,422.2 L477.6,421.5 L479.5,420.9 L481.4,420.3 L483.3,419.7 L485.3,419.0 L487.2,418.4 L489.1,417.8 L491.0,417.3 L493.0,416.7 L494.9,416.1 L496.8,415.5 L498.8,415.0 L500.7,414.4 L502.7,413.8 L504.6,413.3 L506.6,412.7 L508.5,412.2 L510.5,411.7 L512.4,411.1 L514.4,410.6 L516.3,410.1 L518.3,409.6 L520.3,409.1 L522.2,408.6 L524.2,408.1 L526.2,407.6 L528.1,407.1 L530.1,406.6 L532.1,406.1 L534.0,405.7 L536.0,405.2 L538.0,404.7 L540.0,404.3 L541.9,403.8 L543.9,403.4 L545.9,402.9 L547.9,402.5 L549.9,402.0 L551.8,401.6 L553.8,401.1 L555.8,400.7 L557.8,400.3 L559.8,399.9 L561.8,399.4 L563.7,399.0 L565.7,398.6 L567.7,398.2 L569.7,397.8 L571.7,397.4 L573.7,397.0 L575.7,396.6 L577.6,396.2 L579.6,395.8 L581.6,395.4 L583.6,395.0 L585.6,394.6 L587.6,394.2 L589.6,393.8 L591.6,393.4 L593.5,393.0 L595.5,392.7 L597.5,392.3 L599.5,391.9 L601.5,391.5 L603.5,391.2 L605.4,390.8 L607.4,390.4 L609.4,390.1 L611.4,389.7 L613.4,389.4 L615.4,389.0 L617.3,388.6 L619.3,388.3 L621.3,387.9 L623.3,387.6 L625.3,387.2 L627.3,386.9 L629.2,386.5 L631.2,386.2 L633.2,385.9 L635.2,385.5 L637.2,385.2 L639.1,384.8 L641.1,384.5 L643.1,384.2 L645.1,383.8 L647.1,383.5 L649.1,383.2 L651.0,382.9 L653.0,382.5 L655.0,382.2 L657.0,381.9 L659.0,381.6 L660.9,381.3 L662.9,381.0 L664.9,380.6 L666.9,380.3 L668.8,380.0 L670.8,379.7 L672.8,379.4 L674.8,379.1 L676.8,378.8 L678.7,378.5 L680.7,378.2 L682.7,377.9 L684.7,377.6 L686.7,377.3 L688.6,377.0 L690.6,376.7 L692.6,376.4 L694.6,376.1 L696.6,375.9 L698.5,375.6 L700.5,375.3 L702.5,375.0 L704.5,374.7 L706.4,374.4 L708.4,374.2 L710.4,373.9 L712.4,373.6 L714.4,373.3 L716.3,373.1 L718.3,372.8 L720.3,372.5 L722.3,372.3 L724.3,372.0 L726.2,371.7 L728.2,371.5 L730.2,371.2 L732.2,370.9 L734.1,370.7 L736.1,370.4 L738.1,370.2 L740.1,369.9 L742.1,369.7 L744.0,369.4 L746.0,369.2 L748.0,368.9 L750.0,368.7 L752.0,368.4 L753.9,368.2 L755.9,367.9 L757.9,367.7 L759.9,367.4 L761.9,367.2 L763.9,366.9 L765.8,366.7 L767.8,366.5 L769.8,366.2 L771.8,366.0 L773.8,365.8 L775.7,365.5 L777.7,365.3 L779.7,365.1 L781.7,364.8 L783.7,364.6 L785.7,364.4 L787.6,364.1 L789.6,363.9 L791.6,363.7 L793.6,363.5 L795.6,363.2 L797.6,363.0 L799.6,362.8 L801.5,362.6 L803.5,362.3 L805.5,362.1 L807.5,361.9 L809.5,361.7 L811.5,361.5 L813.5,361.3 L815.4,361.0 L817.4,360.8 L819.4,360.6 L821.4,360.4 L823.4,360.2 L825.4,360.0 L827.4,359.8 L829.4,359.6 L831.4,359.4 L833.3,359.2 L835.3,358.9 L837.3,358.7 L839.3,358.5 L841.3,358.3 L843.3,358.1 L845.3,357.9 L847.3,357.7 L849.3,357.5 L851.3,357.3 L853.3,357.1 L855.3,356.9 L857.3,356.7 L859.3,356.5 L861.2,356.3 L863.2,356.1 L865.2,355.9 L867.2,355.7 L869.2,355.6 L871.2,355.4 L873.2,355.2 L875.2,355.0 L877.2,354.8 L879.2,354.6 L881.2,354.4 L883.2,354.2 L885.2,354.0 L887.2,353.8 L889.2,353.6 L891.2,353.4 L893.2,353.3 L895.2,353.1 L897.2,352.9 L899.2,352.7 L901.3,352.5 L903.3,352.3 L905.3,352.1 L907.3,352.0 L909.3,351.8 L911.3,351.6 L913.3,351.4 L915.3,351.2 L917.3,351.0 L919.3,350.9 L921.3,350.7 L923.3,350.5 L925.4,350.3 L927.4,350.1 L929.4,349.9 L931.4,349.8 L933.4,349.6 L935.4,349.4 L937.4,349.2 L939.5,349.0 L941.5,348.9 L943.5,348.7 L945.5,348.5 L945.6,349.0 L945.8,510.0 L950.0,550.0 L952.5,690.0 L954.0,884.0 L955.5,960.0 L955.9,1000.0 L957.1,1055.3 L959.2,1110.5 L962.6,1152.0" fill="none" stroke="#1566df" stroke-width="3.6" stroke-linejoin="round" stroke-linecap="round"/>
<path d="M945.6,349.0 L945.8,510.0 L950.0,550.0 L952.5,690.0 L954.0,884.0 L955.5,960.0 L955.9,1000.0 L957.1,1055.3 L959.2,1110.5 L962.6,1152.0 L966.8,1186.5 L973.7,1214.2 L980.6,1234.9" fill="none" stroke="#1566df" stroke-width="3.3" stroke-linejoin="round" stroke-linecap="round"/>
<path d="M962.6,1153.4 L964.0,1161.7 L965.4,1179.1 L966.8,1182.6 L968.2,1199.2 L969.6,1187.0 L970.9,1215.4 L972.3,1202.0 L973.7,1224.5 L975.1,1208.3 L976.5,1231.6 L977.8,1213.9 L979.2,1240.1 L980.6,1226.2 L982.1,1249.2 L983.5,1228.3 L985.0,1247.7 L986.4,1234.3 L987.9,1252.8 L989.3,1239.8 L990.8,1257.1 L992.3,1239.0 L993.8,1261.2 L995.2,1243.6 L996.7,1270.6 L998.2,1251.3 L999.7,1274.1 L1001.2,1257.5 L1002.7,1269.2 L1004.2,1250.8 L1005.7,1271.0 L1007.2,1256.7 L1008.7,1278.5 L1010.2,1257.9 L1011.7,1277.8 L1013.2,1266.6 L1014.7,1284.1 L1016.2,1268.2 L1017.6,1279.3 L1019.1,1263.3 L1020.6,1287.6 L1022.1,1279.3 L1023.6,1301.6 L1025.1,1290.8 L1026.6,1304.2 L1028.1,1288.5 L1029.6,1313.4 L1031.1,1290.2 L1032.6,1303.4 L1034.1,1288.2 L1035.6,1298.1 L1037.1,1286.1 L1038.6,1301.1 L1040.0,1289.9 L1041.5,1305.7 L1043.0,1294.0 L1044.5,1312.7 L1046.0,1295.6 L1047.5,1315.3 L1049.0,1300.4 L1050.5,1319.8 L1052.0,1301.1 L1053.5,1322.0 L1055.0,1311.1 L1056.5,1328.3 L1058.0,1313.7 L1059.4,1335.6 L1060.9,1320.8 L1062.4,1341.3 L1063.9,1316.5 L1065.4,1323.8 L1066.9,1298.2 L1068.4,1306.1 L1069.9,1277.8 L1071.4,1292.2 L1072.9,1277.7 L1074.4,1295.8 L1075.9,1279.4 L1077.4,1297.5 L1078.9,1286.1 L1080.4,1301.9 L1081.8,1281.1 L1083.3,1300.8 L1084.8,1283.5 L1086.3,1302.4 L1087.8,1287.3 L1089.3,1307.8 L1090.8,1284.3 L1092.3,1307.2 L1093.8,1294.1 L1095.3,1307.2 L1096.8,1286.8 L1098.3,1305.4 L1099.8,1291.1 L1101.3,1303.1 L1102.8,1290.2 L1104.2,1315.5 L1105.7,1302.5 L1107.2,1324.5 L1108.7,1308.2 L1110.2,1337.1 L1111.7,1317.6 L1113.2,1328.6 L1114.7,1299.1 L1116.2,1313.7 L1117.7,1280.0 L1119.2,1313.0 L1120.7,1302.2 L1122.2,1331.1 L1123.7,1303.8 L1125.2,1319.5 L1126.7,1292.4 L1128.1,1303.9 L1129.6,1284.8 L1131.1,1291.8 L1132.6,1287.8 L1134.1,1320.3 L1135.6,1317.0 L1137.1,1343.5 L1138.6,1309.2 L1140.1,1312.7 L1141.6,1285.9 L1143.1,1301.0 L1144.6,1271.5 L1146.1,1285.6 L1147.6,1262.1 L1149.1,1277.9 L1150.6,1260.1 L1152.0,1281.0 L1153.5,1260.3 L1155.0,1284.1 L1156.5,1266.3 L1158.0,1280.5 L1159.5,1272.0 L1161.0,1291.0 L1162.5,1270.7 L1164.0,1291.5 L1165.5,1275.4 L1167.0,1286.6 L1168.5,1264.1 L1170.0,1283.6 L1171.5,1263.1 L1173.0,1290.3 L1174.5,1269.0 L1175.9,1294.3 L1177.4,1279.7 L1178.9,1292.8 L1180.4,1270.5 L1181.9,1287.4 L1183.4,1264.5 L1184.9,1273.4 L1186.4,1254.3 L1187.9,1274.4 L1189.4,1262.0 L1190.8,1284.2 L1192.3,1273.2 L1193.8,1290.3 L1195.3,1285.2 L1196.8,1305.7 L1198.3,1300.9 L1199.8,1322.8 L1201.3,1311.9 L1202.8,1333.3 L1204.3,1316.2 L1205.8,1338.1 L1207.3,1322.9 L1208.8,1343.8 L1210.3,1326.0 L1211.8,1331.9 L1213.2,1312.8 L1214.7,1323.3 L1216.2,1302.7 L1217.7,1310.0 L1219.2,1283.3 L1220.7,1292.8 L1222.2,1285.5 L1223.7,1309.1 L1225.2,1300.3 L1226.7,1325.3 L1228.2,1310.4 L1229.7,1325.9 L1231.2,1316.9 L1232.7,1339.2 L1234.2,1321.4 L1235.7,1331.7 L1237.2,1309.1 L1238.6,1328.4 L1240.1,1301.7 L1241.6,1325.9 L1243.1,1310.3 L1244.6,1331.1 L1246.1,1322.2 L1247.4,1330.7 L1248.7,1300.1 L1250.0,1310.7 L1251.5,1288.5 L1253.0,1306.1 L1254.5,1285.7 L1256.0,1299.0 L1257.5,1290.7 L1259.0,1312.6 L1260.5,1302.2 L1261.9,1367.6 L1263.4,1332.6 L1264.9,1336.6 L1266.4,1313.8 L1267.9,1332.5 L1269.4,1305.7 L1270.9,1318.3 L1272.4,1298.5 L1273.9,1319.1 L1275.4,1292.7 L1276.9,1310.4 L1278.4,1291.0 L1279.9,1292.8 L1281.4,1263.2 L1282.9,1268.4 L1284.4,1249.5 L1285.8,1256.3 L1287.3,1238.7 L1288.8,1247.8 L1290.3,1233.2 L1291.8,1251.2 L1293.3,1238.6 L1294.8,1259.7 L1296.3,1244.1 L1297.8,1257.8 L1299.3,1243.7 L1300.8,1266.8 L1302.3,1251.8 L1303.8,1283.5 L1305.3,1265.0 L1306.8,1280.0 L1308.2,1252.0 L1309.7,1274.2 L1311.2,1262.4 L1312.7,1289.6 L1314.2,1264.9 L1315.7,1279.3 L1317.2,1248.3 L1318.7,1263.5 L1320.2,1244.6 L1321.7,1260.6 L1323.2,1242.8 L1324.7,1260.9 L1326.2,1244.8 L1327.7,1261.8 L1329.1,1241.4 L1330.6,1261.5 L1332.1,1252.9 L1333.6,1273.3 L1335.1,1259.4 L1336.6,1284.5 L1338.1,1263.4 L1339.6,1285.6 L1341.1,1259.3 L1342.6,1281.0 L1344.1,1267.7 L1345.6,1288.1 L1347.1,1272.8 L1348.6,1291.5 L1350.1,1274.5 L1351.5,1296.4 L1353.0,1271.9 L1354.5,1292.3 L1356.0,1282.0 L1357.5,1297.3 L1359.0,1287.9 L1360.5,1308.8 L1362.0,1303.1 L1363.5,1333.3 L1365.0,1305.8 L1366.5,1320.5 L1368.0,1293.3 L1369.5,1307.1 L1371.0,1292.8 L1372.5,1314.7 L1373.9,1303.1 L1375.4,1320.4 L1376.9,1310.4 L1378.4,1341.5 L1379.9,1331.3 L1381.4,1352.5 L1382.9,1340.9 L1384.4,1360.1 L1385.9,1341.0 L1387.4,1357.9 L1388.9,1334.1 L1390.4,1348.9 L1391.9,1328.7 L1393.3,1332.7 L1394.8,1307.2 L1396.3,1316.2 L1397.8,1301.5 L1399.3,1312.5 L1400.8,1288.3 L1402.3,1320.9 L1403.8,1314.5 L1405.3,1357.0 L1406.8,1360.7 L1408.3,1370.6 L1409.8,1349.7 L1411.3,1359.7 L1412.8,1335.9 L1414.3,1354.9 L1415.8,1352.8 L1417.2,1380.6 L1418.7,1351.3 L1420.2,1359.7 L1421.7,1332.8 L1423.2,1336.7 L1424.7,1330.8 L1426.2,1357.6 L1427.7,1349.5 L1429.2,1376.3 L1430.7,1350.4 L1432.2,1355.0 L1433.7,1325.4 L1435.2,1332.4 L1436.7,1302.3 L1438.2,1329.7 L1439.7,1309.9 L1441.1,1331.7 L1442.6,1319.7 L1444.1,1339.3 L1445.6,1318.8 L1447.1,1329.7 L1448.6,1310.9 L1450.1,1324.0 L1451.6,1304.1 L1453.1,1331.4 L1454.6,1320.9 L1456.0,1342.3 L1457.5,1331.4 L1459.0,1351.9 L1460.5,1338.2 L1462.0,1366.8 L1463.5,1351.4 L1465.0,1364.1 L1466.5,1339.2 L1468.0,1353.7 L1469.5,1328.6 L1471.0,1339.6 L1472.5,1304.7 L1474.0,1301.5 L1475.5,1275.9 L1477.0,1294.2 L1478.5,1265.7 L1480.0,1281.9 L1481.5,1259.6 L1482.9,1273.6 L1484.4,1248.7 L1485.9,1264.5 L1487.4,1247.5 L1488.9,1273.0 L1490.4,1253.2 L1491.9,1279.5 L1493.4,1251.9 L1494.9,1269.3 L1496.4,1244.5 L1497.9,1258.6 L1499.4,1246.5 L1500.9,1273.7 L1502.4,1257.4 L1503.9,1286.7 L1505.3,1267.1 L1506.8,1295.0 L1508.3,1275.3 L1509.8,1291.9 L1511.3,1274.2 L1512.8,1296.6 L1514.3,1270.8 L1515.8,1280.0 L1517.3,1256.5 L1518.8,1274.3 L1520.3,1267.6 L1521.8,1293.2 L1523.3,1293.2 L1524.8,1328.7 L1526.2,1327.4 L1527.7,1366.1 L1529.2,1334.6 L1530.7,1338.5 L1532.2,1313.0 L1533.7,1316.3 L1535.2,1299.4 L1536.7,1323.3 L1538.2,1307.4 L1539.7,1329.7 L1541.2,1328.5 L1542.7,1360.9 L1544.2,1350.1 L1545.7,1365.8 L1547.1,1354.8 L1548.6,1376.8 L1550.1,1362.3 L1551.6,1378.6 L1553.1,1361.1 L1554.6,1369.8 L1556.1,1336.6 L1557.5,1359.8 L1559.0,1341.2 L1560.2,1352.6 L1561.5,1320.4 L1562.5,1260.0 L1563.5,1165.0" fill="none" stroke="#1566df" stroke-width="4.8" stroke-linejoin="round" stroke-linecap="round"/>
<path d="M1563.5,1165.0 L1564.5,1100.0 L1564.7,1098.0 L1564.9,1096.0 L1565.1,1094.0 L1565.2,1092.0 L1565.4,1090.0 L1565.6,1088.0 L1565.8,1086.0 L1565.9,1084.0 L1566.1,1082.0 L1566.3,1080.1 L1566.4,1078.1 L1566.6,1076.1 L1566.7,1074.1 L1566.9,1072.1 L1567.1,1070.1 L1567.2,1068.1 L1567.4,1066.1 L1567.5,1064.1 L1567.7,1062.1 L1567.8,1060.1 L1567.9,1058.1 L1568.1,1056.1 L1568.2,1054.1 L1568.4,1052.1 L1568.5,1050.1 L1568.6,1048.1 L1568.8,1046.1 L1568.9,1044.1 L1569.0,1042.1 L1569.1,1040.1 L1569.3,1038.1 L1569.4,1036.1 L1569.5,1034.1 L1569.7,1032.1 L1569.8,1030.1 L1569.9,1028.1 L1570.0,1026.1 L1570.1,1024.1 L1570.2,1022.1 L1570.4,1020.1 L1570.5,1018.1 L1570.6,1016.1 L1570.7,1014.1 L1570.8,1012.1 L1570.9,1010.1 L1571.1,1008.1 L1571.2,1006.1 L1571.3,1004.1 L1571.4,1002.1 L1571.5,1000.1 L1571.6,998.1 L1571.7,996.1 L1571.8,994.1 L1571.9,992.1 L1572.0,990.1 L1572.2,988.1 L1572.3,986.1 L1572.4,984.1 L1572.5,982.1 L1572.6,980.1 L1572.7,978.1 L1572.8,976.1 L1572.9,974.1 L1573.0,972.1 L1573.1,970.1 L1573.3,968.1 L1573.4,966.1 L1573.5,964.1 L1573.6,962.1 L1573.7,960.1 L1573.8,958.1 L1573.9,956.1 L1574.0,954.1 L1574.2,952.1 L1574.3,950.1 L1574.4,948.1 L1574.5,946.1 L1574.6,944.1 L1574.7,942.1 L1574.9,940.1 L1575.0,938.1 L1575.1,936.1 L1575.2,934.1 L1575.4,932.1 L1575.5,930.1 L1575.6,928.1 L1575.7,926.1 L1575.9,924.1 L1576.0,922.1 L1576.1,920.1 L1576.3,918.1 L1576.4,916.1 L1576.5,914.1 L1576.7,912.1 L1576.8,910.1 L1577.0,908.1 L1577.1,906.2 L1577.3,904.2 L1577.4,902.2 L1577.6,900.2 L1577.7,898.2 L1577.9,896.2 L1578.0,894.2 L1578.2,892.2 L1578.4,890.2 L1578.5,888.2 L1578.7,886.2 L1578.9,884.2 L1579.0,882.2 L1579.2,880.2 L1579.4,878.2 L1579.6,876.2 L1579.7,874.2 L1579.9,872.2 L1580.1,870.2 L1580.3,868.3 L1580.5,866.3 L1580.7,864.3 L1580.9,862.3 L1581.1,860.3 L1581.3,858.3 L1581.5,856.3 L1581.7,854.3 L1581.9,852.3 L1582.1,850.3 L1582.4,848.3 L1582.6,846.3 L1582.8,844.4 L1583.0,842.4 L1583.3,840.4 L1583.5,838.4 L1583.8,836.4 L1584.0,834.4 L1584.3,832.4 L1584.5,830.4 L1584.8,828.5 L1585.0,826.5 L1585.3,824.5 L1585.6,822.5 L1585.8,820.5 L1586.1,818.5 L1586.4,816.5 L1586.7,814.6 L1587.0,812.6 L1587.2,810.6 L1587.5,808.6 L1587.8,806.6 L1588.1,804.6 L1588.5,802.7 L1588.8,800.7 L1589.1,798.7 L1589.4,796.7 L1589.7,794.7 L1590.1,792.7 L1590.4,790.8 L1590.8,788.8 L1591.1,786.8 L1591.4,784.8 L1591.8,782.9 L1592.2,780.9 L1592.5,778.9 L1592.9,776.9 L1593.3,774.9 L1593.7,773.0 L1594.0,771.0 L1594.4,769.0 L1594.8,767.0 L1595.2,765.1 L1595.6,763.1 L1596.1,761.1 L1596.5,759.1 L1596.9,757.2 L1597.3,755.2 L1597.8,753.2 L1598.2,751.3 L1598.7,749.3 L1599.1,747.3 L1599.6,745.4 L1600.0,743.4 L1600.5,741.4 L1601.0,739.4 L1601.5,737.5 L1601.9,735.5 L1602.4,733.5 L1602.9,731.6 L1603.4,729.6 L1604.0,727.7 L1604.5,725.7 L1605.0,723.7 L1605.5,721.8 L1606.1,719.8 L1606.6,717.8 L1607.2,715.9 L1607.7,713.9 L1608.3,712.0 L1608.9,710.0 L1609.4,708.0 L1610.0,706.1 L1610.6,704.1 L1611.2,702.2 L1611.8,700.2 L1612.4,698.3 L1613.0,696.3 L1613.7,694.4 L1614.3,692.4 L1614.9,690.5 L1615.6,688.5 L1616.2,686.6 L1616.9,684.7 L1617.6,682.7 L1618.3,680.8 L1618.9,678.9 L1619.6,676.9 L1620.3,675.0 L1621.0,673.1 L1621.8,671.2 L1622.5,669.3 L1623.2,667.4 L1624.0,665.5 L1624.7,663.6 L1625.5,661.7 L1626.2,659.8 L1627.0,657.9 L1627.8,656.0 L1628.6,654.1 L1629.4,652.3 L1630.2,650.4 L1631.0,648.5 L1631.8,646.7 L1632.7,644.8 L1633.5,643.0 L1634.4,641.2 L1635.2,639.3 L1636.1,637.5 L1637.0,635.7 L1637.8,633.9 L1638.7,632.1 L1639.6,630.3 L1640.6,628.5 L1641.5,626.7 L1642.4,624.9 L1643.4,623.1 L1644.3,621.4 L1645.3,619.6 L1646.2,617.9 L1647.2,616.1 L1648.2,614.4 L1649.2,612.7 L1650.2,611.0 L1651.2,609.3 L1652.3,607.6 L1653.3,605.9 L1654.4,604.2 L1655.4,602.5 L1656.5,600.9 L1657.6,599.2 L1658.7,597.6 L1659.8,595.9 L1660.9,594.3 L1662.0,592.7 L1663.1,591.1 L1664.3,589.5 L1665.4,587.9 L1666.6,586.4 L1667.8,584.8 L1669.0,583.2 L1670.2,581.7 L1671.4,580.2 L1672.6,578.7 L1673.8,577.2 L1675.1,575.7 L1676.3,574.2 L1677.6,572.7 L1678.8,571.2 L1680.1,569.8 L1681.4,568.4 L1682.7,566.9 L1684.1,565.5 L1685.4,564.1 L1686.7,562.8 L1688.1,561.4 L1689.5,560.0 L1690.8,558.7 L1692.2,557.3 L1693.6,556.0 L1695.1,554.7 L1696.5,553.4 L1697.9,552.2 L1699.4,550.9 L1700.8,549.6 L1702.3,548.4 L1703.8,547.2 L1705.3,546.0 L1706.8,544.8 L1708.3,543.6 L1709.9,542.4 L1711.4,541.3 L1713.0,540.1 L1714.5,539.0 L1716.1,537.9 L1717.7,536.8 L1719.3,535.7 L1720.9,534.6 L1722.5,533.6 L1724.1,532.5 L1725.8,531.5 L1727.4,530.4 L1729.1,529.4 L1730.7,528.4 L1732.4,527.4 L1734.1,526.4 L1735.8,525.5 L1737.5,524.5 L1739.2,523.6 L1740.9,522.6 L1742.7,521.7 L1744.4,520.8 L1746.2,519.9 L1747.9,519.0 L1749.7,518.1 L1751.4,517.3 L1753.2,516.4 L1755.0,515.6 L1756.8,514.7 L1758.6,513.9 L1760.4,513.1 L1762.2,512.3 L1764.1,511.5 L1765.9,510.7 L1767.7,509.9 L1769.6,509.2 L1771.4,508.4 L1773.3,507.7 L1775.1,506.9 L1777.0,506.2 L1778.9,505.5 L1780.8,504.8 L1782.7,504.1 L1784.6,503.4 L1786.5,502.7 L1788.4,502.1 L1790.3,501.4 L1792.2,500.7 L1794.1,500.1 L1796.0,499.5 L1798.0,498.8 L1799.9,498.2 L1801.9,497.6 L1803.8,497.0 L1805.8,496.4 L1807.7,495.8 L1809.7,495.3 L1811.6,494.7 L1813.6,494.1 L1815.6,493.6 L1817.5,493.0 L1819.5,492.5 L1821.5,492.0 L1823.5,491.5 L1825.5,490.9 L1827.5,490.4 L1829.5,489.9 L1831.5,489.4 L1833.5,488.9 L1835.5,488.5 L1837.5,488.0 L1839.5,487.5 L1841.5,487.1 L1843.5,486.6 L1845.5,486.2 L1847.5,485.7 L1849.5,485.3 L1851.6,484.9 L1853.6,484.4 L1855.6,484.0 L1857.6,483.6 L1859.7,483.2 L1861.7,482.8 L1863.7,482.4 L1865.7,482.0 L1867.8,481.6 L1869.8,481.2 L1871.8,480.9 L1873.8,480.5 L1875.9,480.1 L1877.9,479.8 L1879.9,479.4 L1882.0,479.1 L1884.0,478.7 L1886.0,478.4 L1888.0,478.0 L1890.1,477.7 L1892.1,477.4 L1894.1,477.1 L1896.1,476.7 L1898.2,476.4 L1900.2,476.1 L1902.2,475.8 L1904.2,475.5 L1906.2,475.2 L1908.2,474.9 L1910.3,474.6 L1912.3,474.3 L1914.3,474.0 L1916.3,473.7 L1918.3,473.5 L1920.3,473.2 L1922.3,472.9 L1924.3,472.6 L1926.3,472.4 L1928.3,472.1 L1930.3,471.8 L1932.3,471.6 L1934.3,471.3 L1936.3,471.1 L1938.3,470.8 L1940.3,470.6 L1942.3,470.3 L1944.3,470.1 L1946.3,469.9 L1948.3,469.6 L1950.3,469.4 L1952.3,469.2 L1954.3,469.0 L1956.3,468.7 L1958.3,468.5 L1960.2,468.3 L1962.2,468.1 L1964.2,467.9 L1966.2,467.6 L1968.2,467.4 L1970.2,467.2 L1972.2,467.0 L1974.1,466.8 L1976.1,466.6 L1978.1,466.4 L1980.1,466.2 L1982.1,466.0 L1984.1,465.9 L1986.0,465.7 L1988.0,465.5 L1990.0,465.3 L1992.0,465.1 L1994.0,464.9 L1995.9,464.7 L1997.9,464.6 L1999.9,464.4 L2001.9,464.2 L2003.8,464.0 L2005.8,463.9 L2007.8,463.7 L2009.8,463.5 L2011.7,463.4 L2013.7,463.2 L2015.7,463.0 L2017.7,462.9 L2019.6,462.7 L2021.6,462.5 L2023.6,462.4 L2025.6,462.2 L2027.5,462.1 L2029.5,461.9 L2031.5,461.8 L2033.5,461.6 L2035.4,461.5 L2037.4,461.3 L2039.4,461.1 L2041.4,461.0 L2043.3,460.8 L2045.3,460.7 L2047.3,460.5 L2049.3,460.4 L2051.2,460.3 L2053.2,460.1 L2055.2,460.0 L2057.2,459.8 L2059.2,459.7 L2061.1,459.5 L2063.1,459.4 L2065.1,459.2 L2067.1,459.1 L2069.0,458.9 L2071.0,458.8 L2073.0,458.7 L2075.0,458.5 L2077.0,458.4 L2078.9,458.2 L2080.9,458.1 L2082.9,457.9 L2084.9,457.8 L2086.9,457.6 L2088.8,457.5 L2090.8,457.4 L2092.8,457.2 L2094.8,457.1 L2096.8,456.9 L2098.8,456.8 L2100.8,456.6 L2102.7,456.5 L2104.7,456.3 L2106.7,456.2 L2108.7,456.0 L2110.7,455.9 L2112.7,455.7 L2114.7,455.6 L2116.7,455.4 L2118.7,455.3 L2120.7,455.1 L2122.7,455.0 L2124.7,454.8 L2126.6,454.7 L2128.6,454.5 L2130.6,454.3 L2132.6,454.2 L2134.6,454.0 L2136.6,453.9 L2138.7,453.7 L2140.7,453.5 L2142.7,453.4 L2144.7,453.2 L2146.7,453.0 L2148.7,452.9 L2150.7,452.7 L2152.7,452.5 L2154.7,452.3 L2156.7,452.2 L2158.7,452.0 L2160.8,451.8 L2162.8,451.6 L2164.8,451.4 L2166.8,451.3 L2168.8,451.1 L2170.9,450.9 L2172.9,450.7 L2174.9,450.5 L2176.9,450.3 L2179.0,450.1 L2181.0,449.9" fill="none" stroke="#1566df" stroke-width="3.6" stroke-linejoin="round" stroke-linecap="round"/>
<rect x="327.3" y="56.6" width="1854.1" height="1493.7" fill="none" stroke="#000" stroke-width="3.0"/>
<path d="M327.3,56.6h30 M327.3,139.6h15 M327.3,222.6h30 M327.3,305.6h15 M327.3,388.5h30 M327.3,471.5h15 M327.3,554.5h30 M327.3,637.5h15 M327.3,720.5h30 M327.3,803.5h15 M327.3,886.4h30 M327.3,969.4h15 M327.3,1052.4h30 M327.3,1135.4h15 M327.3,1218.4h30 M327.3,1301.3h15 M327.3,1384.3h30 M327.3,1467.3h15 M327.3,1550.3h30 M327.3,1550.3v-30 M456.1,1550.3v-15 M584.8,1550.3v-30 M713.6,1550.3v-15 M842.3,1550.3v-30 M971.1,1550.3v-15 M1099.8,1550.3v-30 M1228.6,1550.3v-15 M1357.4,1550.3v-30 M1486.1,1550.3v-15 M1614.9,1550.3v-30 M1743.6,1550.3v-15 M1872.4,1550.3v-30 M2001.1,1550.3v-15 M2129.9,1550.3v-30" stroke="#000" stroke-width="2.8" fill="none"/>
<text x="293" y="79.4" text-anchor="end">-0.2</text>
<text x="293" y="245.4" text-anchor="end">-0.3</text>
<text x="293" y="411.3" text-anchor="end">-0.4</text>
<text x="293" y="577.3" text-anchor="end">-0.5</text>
<text x="293" y="743.3" text-anchor="end">-0.6</text>
<text x="293" y="909.2" text-anchor="end">-0.7</text>
<text x="293" y="1075.2" text-anchor="end">-0.8</text>
<text x="293" y="1241.2" text-anchor="end">-0.9</text>
<text x="293" y="1407.1" text-anchor="end">-1.0</text>
<text x="293" y="1573.1" text-anchor="end">-1.1</text>
<text x="327.3" y="1642.4" text-anchor="middle">0</text>
<text x="584.8" y="1642.4" text-anchor="middle">500</text>
<text x="842.3" y="1642.4" text-anchor="middle">1000</text>
<text x="1099.8" y="1642.4" text-anchor="middle">1500</text>
<text x="1357.4" y="1642.4" text-anchor="middle">2000</text>
<text x="1614.9" y="1642.4" text-anchor="middle">2500</text>
<text x="1872.4" y="1642.4" text-anchor="middle">3000</text>
<text x="2129.9" y="1642.4" text-anchor="middle">3500</text>
<text x="1254" y="1771.9" text-anchor="middle">Time/s</text>
<text transform="translate(86,763.2) rotate(-90)" text-anchor="middle" style="font-size:77.7px">Open circuit potential/V</text>
<text x="693.5" y="201" text-anchor="middle">Before</text>
<text x="1921" y="186.8" text-anchor="middle">After</text>
<text x="1290.2" y="954.2" text-anchor="middle">During sliding</text>
<path d="M1727.8,1132.4H1885.3" stroke="#4c4e4a" stroke-width="3"/>
<text x="1924" y="1159.7">10N</text>
<path d="M1727.8,1230H1885.3" stroke="#f83b3d" stroke-width="3"/>
<text x="1924" y="1256.7">20N</text>
<path d="M1727.8,1327.5H1885.3" stroke="#1566df" stroke-width="3"/>
<text x="1924" y="1354.2">30N</text>
</svg>
</body></html>
